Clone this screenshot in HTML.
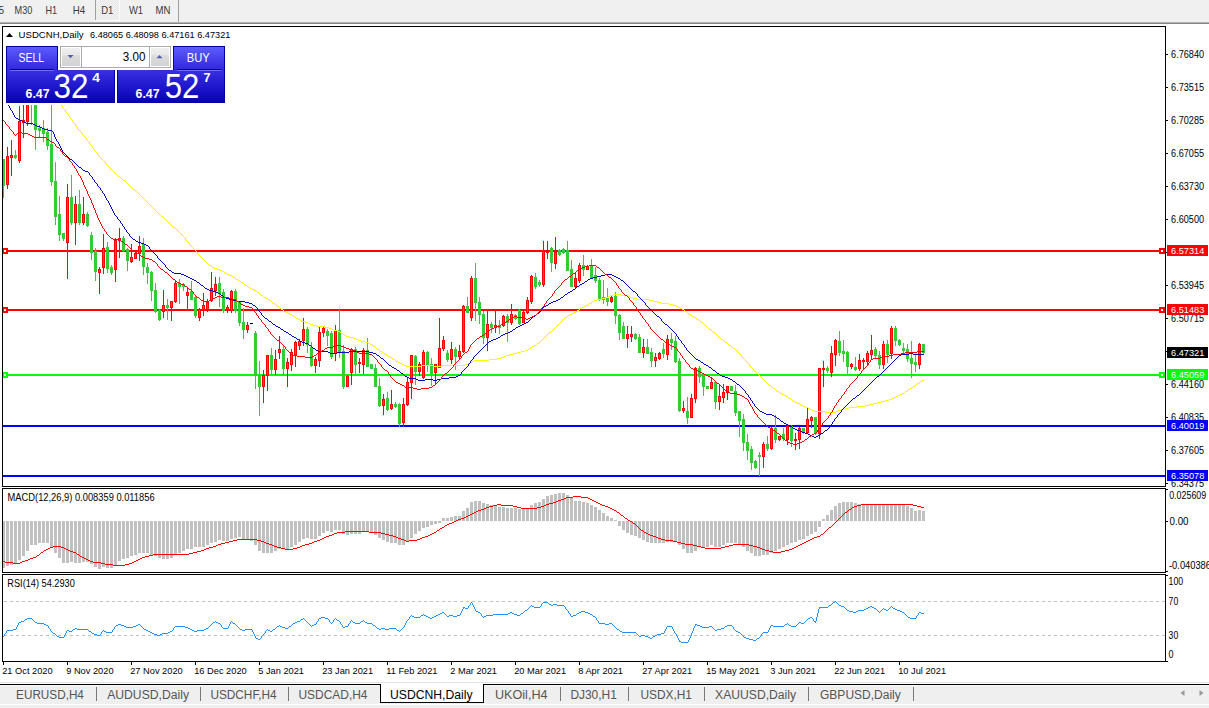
<!DOCTYPE html>
<html><head><meta charset="utf-8"><title>USDCNH,Daily</title>
<style>
html,body{margin:0;padding:0;background:#fff;}
body{width:1209px;height:708px;overflow:hidden;position:relative;font-family:"Liberation Sans", sans-serif;}
svg{position:absolute;left:0;top:0;display:block;}
text{font-family:"Liberation Sans", sans-serif;}
</style></head><body>
<svg width="1209" height="708" viewBox="0 0 1209 708">
<defs>
<pattern id="chk" width="2" height="2" patternUnits="userSpaceOnUse"><rect width="2" height="2" fill="#f4f4f4"/><rect width="1" height="1" fill="#e6e6e6"/><rect x="1" y="1" width="1" height="1" fill="#e6e6e6"/></pattern>
<linearGradient id="gBtn" x1="0" y1="0" x2="0" y2="1"><stop offset="0" stop-color="#5c5cff"/><stop offset="1" stop-color="#3226dc"/></linearGradient>
<linearGradient id="gPx" x1="0" y1="0" x2="0" y2="1"><stop offset="0" stop-color="#3a30e4"/><stop offset="1" stop-color="#0600b4"/></linearGradient>
<linearGradient id="gSpin" x1="0" y1="0" x2="0" y2="1"><stop offset="0" stop-color="#f0f0f0"/><stop offset="0.4" stop-color="#e6e6e6"/><stop offset="0.42" stop-color="#dcdcdc"/><stop offset="1" stop-color="#d2d2d2"/></linearGradient>
<clipPath id="cMain"><rect x="3" y="27" width="1162" height="459"/></clipPath>
<clipPath id="cMacd"><rect x="3" y="489" width="1162" height="83"/></clipPath>
<clipPath id="cRsi"><rect x="3" y="575" width="1162" height="86"/></clipPath>
</defs>

<rect x="0" y="0" width="1209" height="22" fill="#f0f0f0"/>
<rect x="0" y="22" width="1209" height="1" fill="#b4b4b4"/>
<rect x="0" y="23" width="1209" height="1" fill="#858585"/>
<rect x="96" y="0" width="23" height="20" fill="url(#chk)"/><rect x="119" y="0" width="1" height="21" fill="#fbfbfb"/><rect x="96" y="20" width="24" height="1" fill="#fbfbfb"/>
<rect x="95" y="0" width="1" height="20" fill="#a0a0a0"/>
<rect x="178" y="0" width="1" height="22" fill="#a0a0a0"/>
<text x="-1.5" y="14.1" font-size="10.2" fill="#3a3a3a" textLength="5.6" lengthAdjust="spacingAndGlyphs">5</text>
<text x="14.6" y="14.1" font-size="10.2" fill="#3a3a3a" textLength="17.7" lengthAdjust="spacingAndGlyphs">M30</text>
<text x="45.5" y="14.1" font-size="10.2" fill="#3a3a3a" textLength="11.6" lengthAdjust="spacingAndGlyphs">H1</text>
<text x="72.8" y="14.1" font-size="10.2" fill="#3a3a3a" textLength="12.4" lengthAdjust="spacingAndGlyphs">H4</text>
<text x="101.2" y="14.1" font-size="10.2" fill="#3a3a3a" textLength="12.1" lengthAdjust="spacingAndGlyphs">D1</text>
<text x="129" y="14.1" font-size="10.2" fill="#3a3a3a" textLength="14.1" lengthAdjust="spacingAndGlyphs">W1</text>
<text x="155.5" y="14.1" font-size="10.2" fill="#3a3a3a" textLength="14.9" lengthAdjust="spacingAndGlyphs">MN</text>
<g clip-path="url(#cMain)" shape-rendering="crispEdges">
<rect x="3" y="250" width="1163" height="2" fill="#ff0000"/>
<rect x="2" y="248" width="6" height="6" fill="#ff0000"/>
<rect x="4" y="250" width="2" height="2" fill="#fff"/>
<rect x="1159" y="248" width="6" height="6" fill="#ff0000"/>
<rect x="1161" y="250" width="2" height="2" fill="#fff"/>
<rect x="3" y="309" width="1163" height="2" fill="#ff0000"/>
<rect x="2" y="307" width="6" height="6" fill="#ff0000"/>
<rect x="4" y="309" width="2" height="2" fill="#fff"/>
<rect x="1159" y="307" width="6" height="6" fill="#ff0000"/>
<rect x="1161" y="309" width="2" height="2" fill="#fff"/>
<rect x="3" y="374" width="1163" height="2" fill="#00ff00"/>
<rect x="2" y="372" width="6" height="6" fill="#00ff00"/>
<rect x="4" y="374" width="2" height="2" fill="#fff"/>
<rect x="1159" y="372" width="6" height="6" fill="#00ff00"/>
<rect x="1161" y="374" width="2" height="2" fill="#fff"/>
<rect x="3" y="425" width="1163" height="2" fill="#0000ff"/>
<rect x="3" y="475" width="1163" height="2" fill="#0000ff"/>
<rect x="3" y="159" width="1" height="39" fill="#32cd32"/>
<rect x="2" y="159" width="3" height="27" fill="#32cd32"/>
<rect x="7" y="147" width="1" height="42" fill="#ff0000"/>
<rect x="6" y="156" width="3" height="29" fill="#ff0000"/>
<rect x="7" y="157" width="1" height="27" fill="#ff4500"/>
<rect x="11" y="140" width="1" height="36" fill="#ff0000"/>
<rect x="10" y="155" width="3" height="3" fill="#ff0000"/>
<rect x="11" y="156" width="1" height="1" fill="#ff4500"/>
<rect x="15" y="150" width="1" height="9" fill="#32cd32"/>
<rect x="14" y="155" width="3" height="3" fill="#32cd32"/>
<rect x="19" y="106" width="1" height="57" fill="#ff0000"/>
<rect x="18" y="121" width="3" height="40" fill="#ff0000"/>
<rect x="19" y="122" width="1" height="38" fill="#ff4500"/>
<rect x="23" y="100" width="1" height="38" fill="#ff0000"/>
<rect x="22" y="120" width="3" height="3" fill="#ff0000"/>
<rect x="23" y="121" width="1" height="1" fill="#ff4500"/>
<rect x="27" y="100" width="1" height="26" fill="#ff0000"/>
<rect x="26" y="100" width="3" height="22" fill="#ff0000"/>
<rect x="27" y="101" width="1" height="20" fill="#ff4500"/>
<rect x="31" y="100" width="1" height="25" fill="#32cd32"/>
<rect x="30" y="100" width="3" height="5" fill="#32cd32"/>
<rect x="35" y="100" width="1" height="50" fill="#32cd32"/>
<rect x="34" y="100" width="3" height="30" fill="#32cd32"/>
<rect x="39" y="125" width="1" height="12" fill="#32cd32"/>
<rect x="38" y="128" width="3" height="3" fill="#32cd32"/>
<rect x="43" y="120" width="1" height="22" fill="#32cd32"/>
<rect x="42" y="128" width="3" height="6" fill="#32cd32"/>
<rect x="47" y="128" width="1" height="22" fill="#32cd32"/>
<rect x="46" y="132" width="3" height="14" fill="#32cd32"/>
<rect x="51" y="100" width="1" height="86" fill="#32cd32"/>
<rect x="50" y="144" width="3" height="38" fill="#32cd32"/>
<rect x="55" y="162" width="1" height="63" fill="#32cd32"/>
<rect x="54" y="181" width="3" height="36" fill="#32cd32"/>
<rect x="59" y="196" width="1" height="45" fill="#32cd32"/>
<rect x="58" y="214" width="3" height="21" fill="#32cd32"/>
<rect x="63" y="233" width="1" height="8" fill="#32cd32"/>
<rect x="62" y="233" width="3" height="6" fill="#32cd32"/>
<rect x="67" y="184" width="1" height="95" fill="#ff0000"/>
<rect x="66" y="197" width="3" height="46" fill="#ff0000"/>
<rect x="67" y="198" width="1" height="44" fill="#ff4500"/>
<rect x="71" y="175" width="1" height="50" fill="#32cd32"/>
<rect x="70" y="197" width="3" height="26" fill="#32cd32"/>
<rect x="75" y="196" width="1" height="49" fill="#ff0000"/>
<rect x="74" y="204" width="3" height="19" fill="#ff0000"/>
<rect x="75" y="205" width="1" height="17" fill="#ff4500"/>
<rect x="79" y="190" width="1" height="35" fill="#32cd32"/>
<rect x="78" y="204" width="3" height="19" fill="#32cd32"/>
<rect x="83" y="197" width="1" height="28" fill="#ff0000"/>
<rect x="82" y="214" width="3" height="9" fill="#ff0000"/>
<rect x="83" y="215" width="1" height="7" fill="#ff4500"/>
<rect x="87" y="212" width="1" height="15" fill="#32cd32"/>
<rect x="86" y="214" width="3" height="12" fill="#32cd32"/>
<rect x="91" y="232" width="1" height="28" fill="#32cd32"/>
<rect x="90" y="235" width="3" height="18" fill="#32cd32"/>
<rect x="95" y="248" width="1" height="33" fill="#32cd32"/>
<rect x="94" y="251" width="3" height="21" fill="#32cd32"/>
<rect x="99" y="267" width="1" height="27" fill="#ff0000"/>
<rect x="98" y="269" width="3" height="4" fill="#ff0000"/>
<rect x="99" y="270" width="1" height="2" fill="#ff4500"/>
<rect x="103" y="234" width="1" height="40" fill="#ff0000"/>
<rect x="102" y="248" width="3" height="20" fill="#ff0000"/>
<rect x="103" y="249" width="1" height="18" fill="#ff4500"/>
<rect x="107" y="242" width="1" height="31" fill="#32cd32"/>
<rect x="106" y="247" width="3" height="22" fill="#32cd32"/>
<rect x="111" y="265" width="1" height="10" fill="#32cd32"/>
<rect x="110" y="267" width="3" height="6" fill="#32cd32"/>
<rect x="115" y="238" width="1" height="44" fill="#ff0000"/>
<rect x="114" y="240" width="3" height="30" fill="#ff0000"/>
<rect x="115" y="241" width="1" height="28" fill="#ff4500"/>
<rect x="119" y="228" width="1" height="30" fill="#ff0000"/>
<rect x="118" y="238" width="3" height="3" fill="#ff0000"/>
<rect x="119" y="239" width="1" height="1" fill="#ff4500"/>
<rect x="123" y="236" width="1" height="16" fill="#32cd32"/>
<rect x="122" y="238" width="3" height="13" fill="#32cd32"/>
<rect x="127" y="248" width="1" height="23" fill="#32cd32"/>
<rect x="126" y="249" width="3" height="12" fill="#32cd32"/>
<rect x="131" y="244" width="1" height="19" fill="#ff0000"/>
<rect x="130" y="257" width="3" height="5" fill="#ff0000"/>
<rect x="131" y="258" width="1" height="3" fill="#ff4500"/>
<rect x="135" y="252" width="1" height="7" fill="#ff0000"/>
<rect x="134" y="253" width="3" height="6" fill="#ff0000"/>
<rect x="135" y="254" width="1" height="4" fill="#ff4500"/>
<rect x="139" y="236" width="1" height="25" fill="#ff0000"/>
<rect x="138" y="246" width="3" height="8" fill="#ff0000"/>
<rect x="139" y="247" width="1" height="6" fill="#ff4500"/>
<rect x="143" y="238" width="1" height="37" fill="#32cd32"/>
<rect x="142" y="244" width="3" height="23" fill="#32cd32"/>
<rect x="147" y="263" width="1" height="21" fill="#32cd32"/>
<rect x="146" y="267" width="3" height="6" fill="#32cd32"/>
<rect x="151" y="271" width="1" height="30" fill="#32cd32"/>
<rect x="150" y="272" width="3" height="19" fill="#32cd32"/>
<rect x="155" y="283" width="1" height="30" fill="#32cd32"/>
<rect x="154" y="290" width="3" height="22" fill="#32cd32"/>
<rect x="159" y="309" width="1" height="12" fill="#32cd32"/>
<rect x="158" y="310" width="3" height="10" fill="#32cd32"/>
<rect x="163" y="290" width="1" height="28" fill="#ff0000"/>
<rect x="162" y="305" width="3" height="7" fill="#ff0000"/>
<rect x="163" y="306" width="1" height="5" fill="#ff4500"/>
<rect x="167" y="299" width="1" height="21" fill="#32cd32"/>
<rect x="166" y="305" width="3" height="3" fill="#32cd32"/>
<rect x="171" y="301" width="1" height="20" fill="#ff0000"/>
<rect x="170" y="301" width="3" height="7" fill="#ff0000"/>
<rect x="171" y="302" width="1" height="5" fill="#ff4500"/>
<rect x="175" y="280" width="1" height="23" fill="#ff0000"/>
<rect x="174" y="283" width="3" height="19" fill="#ff0000"/>
<rect x="175" y="284" width="1" height="17" fill="#ff4500"/>
<rect x="179" y="279" width="1" height="25" fill="#32cd32"/>
<rect x="178" y="283" width="3" height="4" fill="#32cd32"/>
<rect x="183" y="283" width="1" height="8" fill="#32cd32"/>
<rect x="182" y="284" width="3" height="3" fill="#32cd32"/>
<rect x="187" y="287" width="1" height="23" fill="#ff0000"/>
<rect x="186" y="292" width="3" height="4" fill="#ff0000"/>
<rect x="187" y="293" width="1" height="2" fill="#ff4500"/>
<rect x="191" y="281" width="1" height="19" fill="#32cd32"/>
<rect x="190" y="291" width="3" height="9" fill="#32cd32"/>
<rect x="195" y="295" width="1" height="23" fill="#32cd32"/>
<rect x="194" y="297" width="3" height="19" fill="#32cd32"/>
<rect x="199" y="308" width="1" height="13" fill="#ff0000"/>
<rect x="198" y="309" width="3" height="9" fill="#ff0000"/>
<rect x="199" y="310" width="1" height="7" fill="#ff4500"/>
<rect x="203" y="293" width="1" height="23" fill="#ff0000"/>
<rect x="202" y="305" width="3" height="5" fill="#ff0000"/>
<rect x="203" y="306" width="1" height="3" fill="#ff4500"/>
<rect x="207" y="299" width="1" height="13" fill="#ff0000"/>
<rect x="206" y="302" width="3" height="8" fill="#ff0000"/>
<rect x="207" y="303" width="1" height="6" fill="#ff4500"/>
<rect x="211" y="272" width="1" height="30" fill="#ff0000"/>
<rect x="210" y="288" width="3" height="13" fill="#ff0000"/>
<rect x="211" y="289" width="1" height="11" fill="#ff4500"/>
<rect x="215" y="277" width="1" height="19" fill="#ff0000"/>
<rect x="214" y="284" width="3" height="7" fill="#ff0000"/>
<rect x="215" y="285" width="1" height="5" fill="#ff4500"/>
<rect x="219" y="277" width="1" height="30" fill="#32cd32"/>
<rect x="218" y="283" width="3" height="11" fill="#32cd32"/>
<rect x="223" y="289" width="1" height="24" fill="#32cd32"/>
<rect x="222" y="292" width="3" height="19" fill="#32cd32"/>
<rect x="227" y="305" width="1" height="8" fill="#ff0000"/>
<rect x="226" y="307" width="3" height="3" fill="#ff0000"/>
<rect x="227" y="308" width="1" height="1" fill="#ff4500"/>
<rect x="231" y="290" width="1" height="23" fill="#ff0000"/>
<rect x="230" y="291" width="3" height="20" fill="#ff0000"/>
<rect x="231" y="292" width="1" height="18" fill="#ff4500"/>
<rect x="235" y="289" width="1" height="24" fill="#32cd32"/>
<rect x="234" y="291" width="3" height="20" fill="#32cd32"/>
<rect x="239" y="301" width="1" height="25" fill="#32cd32"/>
<rect x="238" y="302" width="3" height="21" fill="#32cd32"/>
<rect x="243" y="308" width="1" height="31" fill="#32cd32"/>
<rect x="242" y="322" width="3" height="8" fill="#32cd32"/>
<rect x="247" y="322" width="1" height="11" fill="#ff0000"/>
<rect x="246" y="325" width="3" height="5" fill="#ff0000"/>
<rect x="247" y="326" width="1" height="3" fill="#ff4500"/>
<rect x="250" y="323" width="3" height="1" fill="#000"/>
<rect x="255" y="331" width="1" height="58" fill="#32cd32"/>
<rect x="254" y="333" width="3" height="43" fill="#32cd32"/>
<rect x="259" y="361" width="1" height="55" fill="#32cd32"/>
<rect x="258" y="375" width="3" height="12" fill="#32cd32"/>
<rect x="263" y="370" width="1" height="33" fill="#ff0000"/>
<rect x="262" y="375" width="3" height="12" fill="#ff0000"/>
<rect x="263" y="376" width="1" height="10" fill="#ff4500"/>
<rect x="267" y="355" width="1" height="36" fill="#ff0000"/>
<rect x="266" y="355" width="3" height="21" fill="#ff0000"/>
<rect x="267" y="356" width="1" height="19" fill="#ff4500"/>
<rect x="271" y="348" width="1" height="27" fill="#32cd32"/>
<rect x="270" y="355" width="3" height="15" fill="#32cd32"/>
<rect x="275" y="350" width="1" height="25" fill="#ff0000"/>
<rect x="274" y="359" width="3" height="11" fill="#ff0000"/>
<rect x="275" y="360" width="1" height="9" fill="#ff4500"/>
<rect x="279" y="336" width="1" height="23" fill="#ff0000"/>
<rect x="278" y="349" width="3" height="4" fill="#ff0000"/>
<rect x="279" y="350" width="1" height="2" fill="#ff4500"/>
<rect x="283" y="346" width="1" height="30" fill="#32cd32"/>
<rect x="282" y="349" width="3" height="20" fill="#32cd32"/>
<rect x="287" y="358" width="1" height="29" fill="#ff0000"/>
<rect x="286" y="362" width="3" height="7" fill="#ff0000"/>
<rect x="287" y="363" width="1" height="5" fill="#ff4500"/>
<rect x="291" y="349" width="1" height="22" fill="#ff0000"/>
<rect x="290" y="352" width="3" height="13" fill="#ff0000"/>
<rect x="291" y="353" width="1" height="11" fill="#ff4500"/>
<rect x="295" y="341" width="1" height="26" fill="#ff0000"/>
<rect x="294" y="342" width="3" height="13" fill="#ff0000"/>
<rect x="295" y="343" width="1" height="11" fill="#ff4500"/>
<rect x="299" y="339" width="1" height="11" fill="#ff0000"/>
<rect x="298" y="341" width="3" height="5" fill="#ff0000"/>
<rect x="299" y="342" width="1" height="3" fill="#ff4500"/>
<rect x="303" y="318" width="1" height="28" fill="#ff0000"/>
<rect x="302" y="329" width="3" height="12" fill="#ff0000"/>
<rect x="303" y="330" width="1" height="10" fill="#ff4500"/>
<rect x="307" y="327" width="1" height="26" fill="#32cd32"/>
<rect x="306" y="329" width="3" height="16" fill="#32cd32"/>
<rect x="311" y="342" width="1" height="25" fill="#32cd32"/>
<rect x="310" y="347" width="3" height="19" fill="#32cd32"/>
<rect x="315" y="357" width="1" height="16" fill="#ff0000"/>
<rect x="314" y="359" width="3" height="7" fill="#ff0000"/>
<rect x="315" y="360" width="1" height="5" fill="#ff4500"/>
<rect x="319" y="326" width="1" height="41" fill="#ff0000"/>
<rect x="318" y="332" width="3" height="29" fill="#ff0000"/>
<rect x="319" y="333" width="1" height="27" fill="#ff4500"/>
<rect x="323" y="327" width="1" height="10" fill="#ff0000"/>
<rect x="322" y="328" width="3" height="5" fill="#ff0000"/>
<rect x="323" y="329" width="1" height="3" fill="#ff4500"/>
<rect x="327" y="329" width="1" height="17" fill="#32cd32"/>
<rect x="326" y="331" width="3" height="5" fill="#32cd32"/>
<rect x="331" y="331" width="1" height="28" fill="#32cd32"/>
<rect x="330" y="333" width="3" height="24" fill="#32cd32"/>
<rect x="335" y="325" width="1" height="36" fill="#ff0000"/>
<rect x="334" y="330" width="3" height="24" fill="#ff0000"/>
<rect x="335" y="331" width="1" height="22" fill="#ff4500"/>
<rect x="339" y="310" width="1" height="48" fill="#32cd32"/>
<rect x="338" y="330" width="3" height="23" fill="#32cd32"/>
<rect x="343" y="345" width="1" height="44" fill="#32cd32"/>
<rect x="342" y="351" width="3" height="36" fill="#32cd32"/>
<rect x="347" y="375" width="1" height="12" fill="#ff0000"/>
<rect x="346" y="376" width="3" height="11" fill="#ff0000"/>
<rect x="347" y="377" width="1" height="9" fill="#ff4500"/>
<rect x="351" y="348" width="1" height="37" fill="#ff0000"/>
<rect x="350" y="349" width="3" height="24" fill="#ff0000"/>
<rect x="351" y="350" width="1" height="22" fill="#ff4500"/>
<rect x="355" y="347" width="1" height="27" fill="#32cd32"/>
<rect x="354" y="349" width="3" height="16" fill="#32cd32"/>
<rect x="359" y="358" width="1" height="15" fill="#ff0000"/>
<rect x="358" y="362" width="3" height="2" fill="#ff0000"/>
<rect x="363" y="348" width="1" height="26" fill="#ff0000"/>
<rect x="362" y="350" width="3" height="15" fill="#ff0000"/>
<rect x="363" y="351" width="1" height="13" fill="#ff4500"/>
<rect x="367" y="338" width="1" height="29" fill="#32cd32"/>
<rect x="366" y="350" width="3" height="17" fill="#32cd32"/>
<rect x="371" y="364" width="1" height="5" fill="#32cd32"/>
<rect x="370" y="364" width="3" height="5" fill="#32cd32"/>
<rect x="375" y="364" width="1" height="23" fill="#32cd32"/>
<rect x="374" y="368" width="3" height="19" fill="#32cd32"/>
<rect x="379" y="378" width="1" height="29" fill="#32cd32"/>
<rect x="378" y="386" width="3" height="20" fill="#32cd32"/>
<rect x="383" y="394" width="1" height="21" fill="#ff0000"/>
<rect x="382" y="399" width="3" height="7" fill="#ff0000"/>
<rect x="383" y="400" width="1" height="5" fill="#ff4500"/>
<rect x="387" y="392" width="1" height="19" fill="#32cd32"/>
<rect x="386" y="398" width="3" height="12" fill="#32cd32"/>
<rect x="391" y="390" width="1" height="20" fill="#ff0000"/>
<rect x="390" y="404" width="3" height="5" fill="#ff0000"/>
<rect x="391" y="405" width="1" height="3" fill="#ff4500"/>
<rect x="395" y="402" width="1" height="6" fill="#32cd32"/>
<rect x="394" y="404" width="3" height="3" fill="#32cd32"/>
<rect x="399" y="403" width="1" height="24" fill="#32cd32"/>
<rect x="398" y="404" width="3" height="20" fill="#32cd32"/>
<rect x="403" y="398" width="1" height="29" fill="#ff0000"/>
<rect x="402" y="404" width="3" height="19" fill="#ff0000"/>
<rect x="403" y="405" width="1" height="17" fill="#ff4500"/>
<rect x="407" y="377" width="1" height="29" fill="#ff0000"/>
<rect x="406" y="382" width="3" height="23" fill="#ff0000"/>
<rect x="407" y="383" width="1" height="21" fill="#ff4500"/>
<rect x="411" y="355" width="1" height="44" fill="#ff0000"/>
<rect x="410" y="355" width="3" height="28" fill="#ff0000"/>
<rect x="411" y="356" width="1" height="26" fill="#ff4500"/>
<rect x="415" y="355" width="1" height="30" fill="#32cd32"/>
<rect x="414" y="356" width="3" height="16" fill="#32cd32"/>
<rect x="419" y="362" width="1" height="14" fill="#ff0000"/>
<rect x="418" y="364" width="3" height="8" fill="#ff0000"/>
<rect x="419" y="365" width="1" height="6" fill="#ff4500"/>
<rect x="423" y="350" width="1" height="29" fill="#ff0000"/>
<rect x="422" y="352" width="3" height="26" fill="#ff0000"/>
<rect x="423" y="353" width="1" height="24" fill="#ff4500"/>
<rect x="427" y="351" width="1" height="21" fill="#32cd32"/>
<rect x="426" y="352" width="3" height="14" fill="#32cd32"/>
<rect x="431" y="358" width="1" height="28" fill="#32cd32"/>
<rect x="430" y="364" width="3" height="10" fill="#32cd32"/>
<rect x="435" y="364" width="1" height="21" fill="#ff0000"/>
<rect x="434" y="364" width="3" height="9" fill="#ff0000"/>
<rect x="435" y="365" width="1" height="7" fill="#ff4500"/>
<rect x="439" y="318" width="1" height="50" fill="#ff0000"/>
<rect x="438" y="348" width="3" height="20" fill="#ff0000"/>
<rect x="439" y="349" width="1" height="18" fill="#ff4500"/>
<rect x="443" y="336" width="1" height="15" fill="#ff0000"/>
<rect x="442" y="340" width="3" height="9" fill="#ff0000"/>
<rect x="443" y="341" width="1" height="7" fill="#ff4500"/>
<rect x="447" y="350" width="1" height="12" fill="#32cd32"/>
<rect x="446" y="353" width="3" height="7" fill="#32cd32"/>
<rect x="451" y="342" width="1" height="22" fill="#ff0000"/>
<rect x="450" y="349" width="3" height="11" fill="#ff0000"/>
<rect x="451" y="350" width="1" height="9" fill="#ff4500"/>
<rect x="455" y="347" width="1" height="23" fill="#32cd32"/>
<rect x="454" y="349" width="3" height="8" fill="#32cd32"/>
<rect x="459" y="345" width="1" height="15" fill="#ff0000"/>
<rect x="458" y="351" width="3" height="6" fill="#ff0000"/>
<rect x="459" y="352" width="1" height="4" fill="#ff4500"/>
<rect x="463" y="305" width="1" height="48" fill="#ff0000"/>
<rect x="462" y="306" width="3" height="46" fill="#ff0000"/>
<rect x="463" y="307" width="1" height="44" fill="#ff4500"/>
<rect x="467" y="297" width="1" height="16" fill="#32cd32"/>
<rect x="466" y="306" width="3" height="7" fill="#32cd32"/>
<rect x="471" y="276" width="1" height="45" fill="#ff0000"/>
<rect x="470" y="278" width="3" height="40" fill="#ff0000"/>
<rect x="471" y="279" width="1" height="38" fill="#ff4500"/>
<rect x="475" y="263" width="1" height="58" fill="#32cd32"/>
<rect x="474" y="278" width="3" height="25" fill="#32cd32"/>
<rect x="479" y="297" width="1" height="27" fill="#32cd32"/>
<rect x="478" y="302" width="3" height="13" fill="#32cd32"/>
<rect x="483" y="311" width="1" height="33" fill="#32cd32"/>
<rect x="482" y="314" width="3" height="24" fill="#32cd32"/>
<rect x="487" y="311" width="1" height="40" fill="#ff0000"/>
<rect x="486" y="324" width="3" height="14" fill="#ff0000"/>
<rect x="487" y="325" width="1" height="12" fill="#ff4500"/>
<rect x="491" y="322" width="1" height="11" fill="#32cd32"/>
<rect x="490" y="324" width="3" height="4" fill="#32cd32"/>
<rect x="495" y="311" width="1" height="22" fill="#ff0000"/>
<rect x="494" y="325" width="3" height="3" fill="#ff0000"/>
<rect x="495" y="326" width="1" height="1" fill="#ff4500"/>
<rect x="499" y="320" width="1" height="14" fill="#32cd32"/>
<rect x="498" y="325" width="3" height="3" fill="#32cd32"/>
<rect x="503" y="315" width="1" height="12" fill="#ff0000"/>
<rect x="502" y="316" width="3" height="10" fill="#ff0000"/>
<rect x="503" y="317" width="1" height="8" fill="#ff4500"/>
<rect x="507" y="314" width="1" height="28" fill="#32cd32"/>
<rect x="506" y="316" width="3" height="7" fill="#32cd32"/>
<rect x="511" y="304" width="1" height="21" fill="#ff0000"/>
<rect x="510" y="314" width="3" height="9" fill="#ff0000"/>
<rect x="511" y="315" width="1" height="7" fill="#ff4500"/>
<rect x="515" y="314" width="1" height="6" fill="#32cd32"/>
<rect x="514" y="315" width="3" height="4" fill="#32cd32"/>
<rect x="519" y="309" width="1" height="16" fill="#32cd32"/>
<rect x="518" y="310" width="3" height="14" fill="#32cd32"/>
<rect x="523" y="311" width="1" height="12" fill="#ff0000"/>
<rect x="522" y="312" width="3" height="11" fill="#ff0000"/>
<rect x="523" y="313" width="1" height="9" fill="#ff4500"/>
<rect x="527" y="297" width="1" height="17" fill="#ff0000"/>
<rect x="526" y="300" width="3" height="13" fill="#ff0000"/>
<rect x="527" y="301" width="1" height="11" fill="#ff4500"/>
<rect x="531" y="275" width="1" height="29" fill="#ff0000"/>
<rect x="530" y="276" width="3" height="26" fill="#ff0000"/>
<rect x="531" y="277" width="1" height="24" fill="#ff4500"/>
<rect x="535" y="273" width="1" height="16" fill="#32cd32"/>
<rect x="534" y="277" width="3" height="10" fill="#32cd32"/>
<rect x="539" y="280" width="1" height="7" fill="#32cd32"/>
<rect x="538" y="282" width="3" height="3" fill="#32cd32"/>
<rect x="543" y="241" width="1" height="46" fill="#ff0000"/>
<rect x="542" y="251" width="3" height="34" fill="#ff0000"/>
<rect x="543" y="252" width="1" height="32" fill="#ff4500"/>
<rect x="547" y="241" width="1" height="18" fill="#ff0000"/>
<rect x="546" y="251" width="3" height="2" fill="#ff0000"/>
<rect x="551" y="247" width="1" height="25" fill="#32cd32"/>
<rect x="550" y="248" width="3" height="15" fill="#32cd32"/>
<rect x="555" y="237" width="1" height="32" fill="#ff0000"/>
<rect x="554" y="252" width="3" height="12" fill="#ff0000"/>
<rect x="555" y="253" width="1" height="10" fill="#ff4500"/>
<rect x="559" y="249" width="1" height="7" fill="#32cd32"/>
<rect x="558" y="250" width="3" height="5" fill="#32cd32"/>
<rect x="563" y="248" width="1" height="6" fill="#32cd32"/>
<rect x="562" y="249" width="3" height="4" fill="#32cd32"/>
<rect x="567" y="241" width="1" height="30" fill="#32cd32"/>
<rect x="566" y="250" width="3" height="21" fill="#32cd32"/>
<rect x="571" y="260" width="1" height="27" fill="#32cd32"/>
<rect x="570" y="269" width="3" height="18" fill="#32cd32"/>
<rect x="575" y="273" width="1" height="16" fill="#ff0000"/>
<rect x="574" y="278" width="3" height="9" fill="#ff0000"/>
<rect x="575" y="279" width="1" height="7" fill="#ff4500"/>
<rect x="579" y="263" width="1" height="20" fill="#ff0000"/>
<rect x="578" y="265" width="3" height="16" fill="#ff0000"/>
<rect x="579" y="266" width="1" height="14" fill="#ff4500"/>
<rect x="583" y="255" width="1" height="21" fill="#32cd32"/>
<rect x="582" y="265" width="3" height="5" fill="#32cd32"/>
<rect x="587" y="265" width="1" height="5" fill="#ff0000"/>
<rect x="586" y="266" width="3" height="4" fill="#ff0000"/>
<rect x="587" y="267" width="1" height="2" fill="#ff4500"/>
<rect x="591" y="259" width="1" height="20" fill="#32cd32"/>
<rect x="590" y="265" width="3" height="13" fill="#32cd32"/>
<rect x="595" y="267" width="1" height="16" fill="#32cd32"/>
<rect x="594" y="275" width="3" height="6" fill="#32cd32"/>
<rect x="599" y="278" width="1" height="23" fill="#32cd32"/>
<rect x="598" y="280" width="3" height="20" fill="#32cd32"/>
<rect x="603" y="280" width="1" height="24" fill="#32cd32"/>
<rect x="602" y="297" width="3" height="3" fill="#32cd32"/>
<rect x="607" y="288" width="1" height="18" fill="#32cd32"/>
<rect x="606" y="298" width="3" height="4" fill="#32cd32"/>
<rect x="611" y="295" width="1" height="8" fill="#ff0000"/>
<rect x="610" y="297" width="3" height="5" fill="#ff0000"/>
<rect x="611" y="298" width="1" height="3" fill="#ff4500"/>
<rect x="615" y="292" width="1" height="32" fill="#32cd32"/>
<rect x="614" y="296" width="3" height="20" fill="#32cd32"/>
<rect x="619" y="314" width="1" height="26" fill="#32cd32"/>
<rect x="618" y="315" width="3" height="18" fill="#32cd32"/>
<rect x="623" y="322" width="1" height="17" fill="#32cd32"/>
<rect x="622" y="326" width="3" height="13" fill="#32cd32"/>
<rect x="627" y="326" width="1" height="22" fill="#ff0000"/>
<rect x="626" y="334" width="3" height="5" fill="#ff0000"/>
<rect x="627" y="335" width="1" height="3" fill="#ff4500"/>
<rect x="631" y="326" width="1" height="16" fill="#ff0000"/>
<rect x="630" y="334" width="3" height="3" fill="#ff0000"/>
<rect x="631" y="335" width="1" height="1" fill="#ff4500"/>
<rect x="635" y="333" width="1" height="7" fill="#32cd32"/>
<rect x="634" y="334" width="3" height="5" fill="#32cd32"/>
<rect x="639" y="334" width="1" height="19" fill="#32cd32"/>
<rect x="638" y="337" width="3" height="16" fill="#32cd32"/>
<rect x="643" y="339" width="1" height="19" fill="#ff0000"/>
<rect x="642" y="347" width="3" height="6" fill="#ff0000"/>
<rect x="643" y="348" width="1" height="4" fill="#ff4500"/>
<rect x="647" y="339" width="1" height="15" fill="#32cd32"/>
<rect x="646" y="347" width="3" height="7" fill="#32cd32"/>
<rect x="651" y="348" width="1" height="19" fill="#32cd32"/>
<rect x="650" y="352" width="3" height="9" fill="#32cd32"/>
<rect x="655" y="353" width="1" height="14" fill="#ff0000"/>
<rect x="654" y="357" width="3" height="4" fill="#ff0000"/>
<rect x="655" y="358" width="1" height="2" fill="#ff4500"/>
<rect x="659" y="352" width="1" height="8" fill="#ff0000"/>
<rect x="658" y="353" width="3" height="6" fill="#ff0000"/>
<rect x="659" y="354" width="1" height="4" fill="#ff4500"/>
<rect x="663" y="343" width="1" height="15" fill="#32cd32"/>
<rect x="662" y="349" width="3" height="5" fill="#32cd32"/>
<rect x="667" y="335" width="1" height="25" fill="#ff0000"/>
<rect x="666" y="339" width="3" height="16" fill="#ff0000"/>
<rect x="667" y="340" width="1" height="14" fill="#ff4500"/>
<rect x="671" y="333" width="1" height="17" fill="#32cd32"/>
<rect x="670" y="339" width="3" height="4" fill="#32cd32"/>
<rect x="675" y="336" width="1" height="27" fill="#32cd32"/>
<rect x="674" y="341" width="3" height="21" fill="#32cd32"/>
<rect x="679" y="358" width="1" height="54" fill="#32cd32"/>
<rect x="678" y="361" width="3" height="50" fill="#32cd32"/>
<rect x="683" y="401" width="1" height="12" fill="#ff0000"/>
<rect x="682" y="408" width="3" height="3" fill="#ff0000"/>
<rect x="683" y="409" width="1" height="1" fill="#ff4500"/>
<rect x="687" y="397" width="1" height="27" fill="#32cd32"/>
<rect x="686" y="411" width="3" height="7" fill="#32cd32"/>
<rect x="691" y="394" width="1" height="24" fill="#ff0000"/>
<rect x="690" y="398" width="3" height="20" fill="#ff0000"/>
<rect x="691" y="399" width="1" height="18" fill="#ff4500"/>
<rect x="695" y="367" width="1" height="36" fill="#ff0000"/>
<rect x="694" y="368" width="3" height="31" fill="#ff0000"/>
<rect x="695" y="369" width="1" height="29" fill="#ff4500"/>
<rect x="699" y="366" width="1" height="17" fill="#32cd32"/>
<rect x="698" y="368" width="3" height="9" fill="#32cd32"/>
<rect x="703" y="374" width="1" height="22" fill="#32cd32"/>
<rect x="702" y="374" width="3" height="13" fill="#32cd32"/>
<rect x="707" y="386" width="1" height="3" fill="#32cd32"/>
<rect x="706" y="386" width="3" height="3" fill="#32cd32"/>
<rect x="711" y="377" width="1" height="12" fill="#ff0000"/>
<rect x="710" y="382" width="3" height="7" fill="#ff0000"/>
<rect x="711" y="383" width="1" height="5" fill="#ff4500"/>
<rect x="715" y="382" width="1" height="27" fill="#32cd32"/>
<rect x="714" y="382" width="3" height="20" fill="#32cd32"/>
<rect x="719" y="384" width="1" height="26" fill="#ff0000"/>
<rect x="718" y="396" width="3" height="6" fill="#ff0000"/>
<rect x="719" y="397" width="1" height="4" fill="#ff4500"/>
<rect x="723" y="384" width="1" height="19" fill="#ff0000"/>
<rect x="722" y="392" width="3" height="6" fill="#ff0000"/>
<rect x="723" y="393" width="1" height="4" fill="#ff4500"/>
<rect x="727" y="386" width="1" height="14" fill="#ff0000"/>
<rect x="726" y="386" width="3" height="7" fill="#ff0000"/>
<rect x="727" y="387" width="1" height="5" fill="#ff4500"/>
<rect x="731" y="386" width="1" height="5" fill="#32cd32"/>
<rect x="730" y="386" width="3" height="5" fill="#32cd32"/>
<rect x="735" y="385" width="1" height="31" fill="#32cd32"/>
<rect x="734" y="391" width="3" height="22" fill="#32cd32"/>
<rect x="739" y="411" width="1" height="26" fill="#32cd32"/>
<rect x="738" y="411" width="3" height="10" fill="#32cd32"/>
<rect x="743" y="414" width="1" height="37" fill="#32cd32"/>
<rect x="742" y="419" width="3" height="24" fill="#32cd32"/>
<rect x="747" y="434" width="1" height="26" fill="#32cd32"/>
<rect x="746" y="442" width="3" height="9" fill="#32cd32"/>
<rect x="751" y="446" width="1" height="24" fill="#32cd32"/>
<rect x="750" y="449" width="3" height="14" fill="#32cd32"/>
<rect x="755" y="460" width="1" height="9" fill="#32cd32"/>
<rect x="754" y="461" width="3" height="7" fill="#32cd32"/>
<rect x="759" y="452" width="1" height="24" fill="#32cd32"/>
<rect x="758" y="455" width="3" height="2" fill="#32cd32"/>
<rect x="763" y="442" width="1" height="26" fill="#ff0000"/>
<rect x="762" y="444" width="3" height="13" fill="#ff0000"/>
<rect x="763" y="445" width="1" height="11" fill="#ff4500"/>
<rect x="767" y="436" width="1" height="15" fill="#32cd32"/>
<rect x="766" y="444" width="3" height="5" fill="#32cd32"/>
<rect x="771" y="427" width="1" height="23" fill="#ff0000"/>
<rect x="770" y="428" width="3" height="21" fill="#ff0000"/>
<rect x="771" y="429" width="1" height="19" fill="#ff4500"/>
<rect x="775" y="415" width="1" height="28" fill="#32cd32"/>
<rect x="774" y="428" width="3" height="12" fill="#32cd32"/>
<rect x="779" y="436" width="1" height="5" fill="#ff0000"/>
<rect x="778" y="436" width="3" height="4" fill="#ff0000"/>
<rect x="779" y="437" width="1" height="2" fill="#ff4500"/>
<rect x="783" y="428" width="1" height="13" fill="#32cd32"/>
<rect x="782" y="434" width="3" height="5" fill="#32cd32"/>
<rect x="787" y="425" width="1" height="20" fill="#ff0000"/>
<rect x="786" y="426" width="3" height="14" fill="#ff0000"/>
<rect x="787" y="427" width="1" height="12" fill="#ff4500"/>
<rect x="791" y="425" width="1" height="22" fill="#32cd32"/>
<rect x="790" y="426" width="3" height="15" fill="#32cd32"/>
<rect x="795" y="433" width="1" height="17" fill="#ff0000"/>
<rect x="794" y="439" width="3" height="2" fill="#ff0000"/>
<rect x="799" y="427" width="1" height="22" fill="#ff0000"/>
<rect x="798" y="428" width="3" height="12" fill="#ff0000"/>
<rect x="799" y="429" width="1" height="10" fill="#ff4500"/>
<rect x="803" y="428" width="1" height="6" fill="#32cd32"/>
<rect x="802" y="428" width="3" height="5" fill="#32cd32"/>
<rect x="807" y="407" width="1" height="27" fill="#ff0000"/>
<rect x="806" y="419" width="3" height="14" fill="#ff0000"/>
<rect x="807" y="420" width="1" height="12" fill="#ff4500"/>
<rect x="811" y="416" width="1" height="12" fill="#ff0000"/>
<rect x="810" y="417" width="3" height="4" fill="#ff0000"/>
<rect x="811" y="418" width="1" height="2" fill="#ff4500"/>
<rect x="815" y="417" width="1" height="18" fill="#32cd32"/>
<rect x="814" y="417" width="3" height="17" fill="#32cd32"/>
<rect x="819" y="368" width="1" height="71" fill="#ff0000"/>
<rect x="818" y="368" width="3" height="66" fill="#ff0000"/>
<rect x="819" y="369" width="1" height="64" fill="#ff4500"/>
<rect x="823" y="361" width="1" height="26" fill="#ff0000"/>
<rect x="822" y="368" width="3" height="2" fill="#ff0000"/>
<rect x="827" y="366" width="1" height="7" fill="#32cd32"/>
<rect x="826" y="368" width="3" height="3" fill="#32cd32"/>
<rect x="831" y="346" width="1" height="31" fill="#ff0000"/>
<rect x="830" y="353" width="3" height="20" fill="#ff0000"/>
<rect x="831" y="354" width="1" height="18" fill="#ff4500"/>
<rect x="835" y="339" width="1" height="27" fill="#ff0000"/>
<rect x="834" y="340" width="3" height="15" fill="#ff0000"/>
<rect x="835" y="341" width="1" height="13" fill="#ff4500"/>
<rect x="839" y="331" width="1" height="25" fill="#32cd32"/>
<rect x="838" y="341" width="3" height="12" fill="#32cd32"/>
<rect x="843" y="340" width="1" height="22" fill="#32cd32"/>
<rect x="842" y="351" width="3" height="3" fill="#32cd32"/>
<rect x="847" y="351" width="1" height="24" fill="#32cd32"/>
<rect x="846" y="352" width="3" height="15" fill="#32cd32"/>
<rect x="851" y="363" width="1" height="6" fill="#ff0000"/>
<rect x="850" y="364" width="3" height="3" fill="#ff0000"/>
<rect x="851" y="365" width="1" height="1" fill="#ff4500"/>
<rect x="855" y="357" width="1" height="14" fill="#32cd32"/>
<rect x="854" y="367" width="3" height="3" fill="#32cd32"/>
<rect x="859" y="354" width="1" height="17" fill="#ff0000"/>
<rect x="858" y="360" width="3" height="9" fill="#ff0000"/>
<rect x="859" y="361" width="1" height="7" fill="#ff4500"/>
<rect x="863" y="358" width="1" height="12" fill="#ff0000"/>
<rect x="862" y="360" width="3" height="2" fill="#ff0000"/>
<rect x="867" y="351" width="1" height="14" fill="#ff0000"/>
<rect x="866" y="353" width="3" height="9" fill="#ff0000"/>
<rect x="867" y="354" width="1" height="7" fill="#ff4500"/>
<rect x="871" y="335" width="1" height="24" fill="#ff0000"/>
<rect x="870" y="350" width="3" height="5" fill="#ff0000"/>
<rect x="871" y="351" width="1" height="3" fill="#ff4500"/>
<rect x="875" y="347" width="1" height="12" fill="#32cd32"/>
<rect x="874" y="349" width="3" height="7" fill="#32cd32"/>
<rect x="879" y="351" width="1" height="18" fill="#32cd32"/>
<rect x="878" y="355" width="3" height="10" fill="#32cd32"/>
<rect x="883" y="341" width="1" height="28" fill="#ff0000"/>
<rect x="882" y="344" width="3" height="21" fill="#ff0000"/>
<rect x="883" y="345" width="1" height="19" fill="#ff4500"/>
<rect x="887" y="340" width="1" height="23" fill="#32cd32"/>
<rect x="886" y="344" width="3" height="11" fill="#32cd32"/>
<rect x="891" y="326" width="1" height="33" fill="#ff0000"/>
<rect x="890" y="328" width="3" height="26" fill="#ff0000"/>
<rect x="891" y="329" width="1" height="24" fill="#ff4500"/>
<rect x="895" y="326" width="1" height="20" fill="#32cd32"/>
<rect x="894" y="328" width="3" height="13" fill="#32cd32"/>
<rect x="899" y="339" width="1" height="7" fill="#32cd32"/>
<rect x="898" y="340" width="3" height="5" fill="#32cd32"/>
<rect x="903" y="343" width="1" height="12" fill="#32cd32"/>
<rect x="902" y="348" width="3" height="3" fill="#32cd32"/>
<rect x="907" y="344" width="1" height="18" fill="#32cd32"/>
<rect x="906" y="349" width="3" height="10" fill="#32cd32"/>
<rect x="911" y="341" width="1" height="37" fill="#32cd32"/>
<rect x="910" y="358" width="3" height="6" fill="#32cd32"/>
<rect x="915" y="354" width="1" height="18" fill="#32cd32"/>
<rect x="914" y="362" width="3" height="3" fill="#32cd32"/>
<rect x="919" y="343" width="1" height="26" fill="#ff0000"/>
<rect x="918" y="344" width="3" height="21" fill="#ff0000"/>
<rect x="919" y="345" width="1" height="19" fill="#ff4500"/>
<rect x="923" y="344" width="1" height="11" fill="#32cd32"/>
<rect x="922" y="344" width="3" height="9" fill="#32cd32"/>
<path d="M61 105h1v1h-1zM62 106h1v1h-1zM62 107h1v1h-1zM63 108h1v1h-1zM64 109h1v1h-1zM65 110h1v1h-1zM65 111h1v1h-1zM66 112h1v1h-1zM67 113h1v1h-1zM68 114h1v1h-1zM68 115h1v1h-1zM69 116h1v1h-1zM70 117h1v1h-1zM70 118h1v1h-1zM71 119h1v1h-1zM72 120h1v1h-1zM72 121h1v1h-1zM73 122h1v1h-1zM74 123h1v1h-1zM75 124h1v1h-1zM75 125h1v1h-1zM76 126h1v1h-1zM77 127h1v1h-1zM77 128h1v1h-1zM78 129h1v1h-1zM79 130h1v1h-1zM80 131h1v1h-1zM81 132h1v1h-1zM82 133h1v1h-1zM82 134h1v1h-1zM83 135h1v1h-1zM84 136h1v1h-1zM85 137h1v1h-1zM86 138h1v1h-1zM86 139h1v1h-1zM87 140h1v1h-1zM88 141h1v1h-1zM89 142h1v1h-1zM89 143h1v1h-1zM90 144h1v1h-1zM91 145h1v1h-1zM92 146h1v1h-1zM92 147h1v1h-1zM93 148h1v1h-1zM94 149h1v1h-1zM94 150h1v1h-1zM95 151h1v1h-1zM96 152h1v1h-1zM97 153h1v1h-1zM97 154h1v1h-1zM98 155h1v1h-1zM99 156h1v1h-1zM100 157h1v1h-1zM101 158h1v1h-1zM102 159h1v1h-1zM103 160h1v1h-1zM104 161h1v1h-1zM105 162h1v1h-1zM105 163h1v1h-1zM106 164h1v1h-1zM107 165h1v1h-1zM108 166h1v1h-1zM109 167h1v1h-1zM110 168h1v1h-1zM111 169h1v1h-1zM112 170h1v1h-1zM113 171h1v1h-1zM114 172h1v1h-1zM115 173h1v1h-1zM116 174h1v1h-1zM117 175h1v1h-1zM118 176h2v1h-2zM120 177h1v1h-1zM121 178h1v1h-1zM122 179h1v1h-1zM123 180h2v1h-2zM125 181h1v1h-1zM126 182h1v1h-1zM127 183h1v1h-1zM128 184h1v1h-1zM129 185h1v1h-1zM130 186h1v1h-1zM131 187h1v1h-1zM132 188h1v1h-1zM133 189h2v1h-2zM135 190h1v1h-1zM136 191h1v1h-1zM137 192h1v1h-1zM138 193h1v1h-1zM139 194h1v1h-1zM140 195h1v1h-1zM141 196h1v1h-1zM142 197h1v1h-1zM143 198h1v1h-1zM144 199h1v1h-1zM145 200h1v1h-1zM146 201h1v1h-1zM147 202h1v1h-1zM148 203h1v1h-1zM149 204h1v1h-1zM150 205h1v1h-1zM151 206h1v1h-1zM152 207h1v1h-1zM153 208h1v1h-1zM154 209h1v1h-1zM155 210h1v1h-1zM156 211h1v1h-1zM157 212h1v1h-1zM158 213h1v1h-1zM159 214h1v1h-1zM160 215h1v1h-1zM161 216h2v1h-2zM163 217h1v1h-1zM164 218h1v1h-1zM165 219h1v1h-1zM166 220h1v1h-1zM167 221h1v1h-1zM168 222h1v1h-1zM169 223h1v1h-1zM170 224h1v1h-1zM171 225h1v1h-1zM172 226h1v1h-1zM173 227h2v1h-2zM175 228h1v1h-1zM176 229h1v1h-1zM177 230h1v1h-1zM178 231h1v1h-1zM179 232h1v1h-1zM180 233h1v1h-1zM181 234h1v1h-1zM182 235h1v1h-1zM183 236h1v1h-1zM184 237h1v1h-1zM185 238h1v1h-1zM185 239h1v1h-1zM186 240h1v1h-1zM187 241h1v1h-1zM188 242h1v1h-1zM189 243h1v1h-1zM189 244h1v1h-1zM190 245h1v1h-1zM191 246h1v1h-1zM192 247h1v1h-1zM193 248h1v1h-1zM194 249h1v1h-1zM195 250h1v1h-1zM196 251h1v1h-1zM197 252h1v1h-1zM197 253h1v1h-1zM198 254h1v1h-1zM199 255h1v1h-1zM200 256h1v1h-1zM201 257h1v1h-1zM202 258h1v1h-1zM203 259h1v1h-1zM204 260h1v1h-1zM205 261h1v1h-1zM206 262h1v1h-1zM207 263h1v1h-1zM208 264h1v1h-1zM209 265h2v1h-2zM211 266h1v1h-1zM212 267h2v1h-2zM214 268h3v1h-3zM217 269h3v1h-3zM220 270h2v1h-2zM222 271h2v1h-2zM224 272h1v1h-1zM225 273h2v1h-2zM227 274h2v1h-2zM229 275h3v1h-3zM232 276h1v1h-1zM233 277h2v1h-2zM235 278h1v1h-1zM236 279h2v1h-2zM238 280h2v1h-2zM240 281h1v1h-1zM241 282h2v1h-2zM243 283h1v1h-1zM244 284h1v1h-1zM245 285h2v1h-2zM247 286h1v1h-1zM248 287h2v1h-2zM250 288h2v1h-2zM252 289h2v1h-2zM254 290h2v1h-2zM256 291h1v1h-1zM257 292h2v1h-2zM259 293h1v1h-1zM260 294h1v1h-1zM613 294h8v1h-8zM261 295h2v1h-2zM610 295h3v1h-3zM621 295h7v1h-7zM263 296h1v1h-1zM608 296h2v1h-2zM628 296h2v1h-2zM264 297h2v1h-2zM605 297h3v1h-3zM630 297h3v1h-3zM266 298h2v1h-2zM601 298h4v1h-4zM633 298h4v1h-4zM268 299h1v1h-1zM597 299h4v1h-4zM637 299h12v1h-12zM269 300h2v1h-2zM594 300h3v1h-3zM649 300h4v1h-4zM271 301h1v1h-1zM592 301h2v1h-2zM653 301h4v1h-4zM272 302h1v1h-1zM591 302h1v1h-1zM657 302h4v1h-4zM273 303h2v1h-2zM589 303h2v1h-2zM661 303h8v1h-8zM275 304h1v1h-1zM588 304h1v1h-1zM669 304h4v1h-4zM276 305h1v1h-1zM586 305h2v1h-2zM673 305h3v1h-3zM277 306h2v1h-2zM584 306h2v1h-2zM676 306h2v1h-2zM279 307h1v1h-1zM582 307h2v1h-2zM678 307h2v1h-2zM280 308h1v1h-1zM580 308h2v1h-2zM680 308h2v1h-2zM281 309h2v1h-2zM579 309h1v1h-1zM682 309h2v1h-2zM283 310h1v1h-1zM577 310h2v1h-2zM684 310h1v1h-1zM284 311h2v1h-2zM576 311h1v1h-1zM685 311h2v1h-2zM286 312h2v1h-2zM574 312h2v1h-2zM687 312h1v1h-1zM288 313h2v1h-2zM572 313h2v1h-2zM688 313h1v1h-1zM290 314h2v1h-2zM570 314h2v1h-2zM689 314h2v1h-2zM292 315h1v1h-1zM568 315h2v1h-2zM691 315h1v1h-1zM293 316h2v1h-2zM567 316h1v1h-1zM692 316h2v1h-2zM295 317h1v1h-1zM565 317h2v1h-2zM694 317h2v1h-2zM296 318h2v1h-2zM564 318h1v1h-1zM696 318h1v1h-1zM298 319h2v1h-2zM563 319h1v1h-1zM697 319h2v1h-2zM300 320h2v1h-2zM562 320h1v1h-1zM699 320h1v1h-1zM302 321h3v1h-3zM561 321h1v1h-1zM700 321h1v1h-1zM305 322h3v1h-3zM560 322h1v1h-1zM701 322h2v1h-2zM308 323h2v1h-2zM559 323h1v1h-1zM703 323h1v1h-1zM310 324h3v1h-3zM558 324h1v1h-1zM704 324h1v1h-1zM313 325h4v1h-4zM557 325h1v1h-1zM705 325h1v1h-1zM317 326h8v1h-8zM556 326h1v1h-1zM706 326h1v1h-1zM325 327h4v1h-4zM555 327h1v1h-1zM707 327h1v1h-1zM329 328h3v1h-3zM554 328h1v1h-1zM708 328h1v1h-1zM332 329h2v1h-2zM553 329h1v1h-1zM709 329h2v1h-2zM334 330h3v1h-3zM552 330h1v1h-1zM711 330h1v1h-1zM337 331h3v1h-3zM551 331h1v1h-1zM712 331h1v1h-1zM340 332h1v1h-1zM549 332h2v1h-2zM713 332h2v1h-2zM341 333h2v1h-2zM548 333h1v1h-1zM715 333h1v1h-1zM343 334h1v1h-1zM547 334h1v1h-1zM716 334h1v1h-1zM344 335h2v1h-2zM546 335h1v1h-1zM717 335h1v1h-1zM346 336h3v1h-3zM545 336h1v1h-1zM718 336h1v1h-1zM349 337h4v1h-4zM544 337h1v1h-1zM719 337h1v1h-1zM353 338h3v1h-3zM543 338h1v1h-1zM720 338h1v1h-1zM356 339h2v1h-2zM542 339h1v1h-1zM721 339h2v1h-2zM358 340h3v1h-3zM541 340h1v1h-1zM723 340h1v1h-1zM361 341h4v1h-4zM540 341h1v1h-1zM724 341h1v1h-1zM365 342h3v1h-3zM539 342h1v1h-1zM725 342h2v1h-2zM368 343h2v1h-2zM537 343h2v1h-2zM727 343h1v1h-1zM370 344h2v1h-2zM536 344h1v1h-1zM728 344h1v1h-1zM372 345h1v1h-1zM534 345h2v1h-2zM729 345h2v1h-2zM373 346h2v1h-2zM532 346h2v1h-2zM731 346h1v1h-1zM375 347h1v1h-1zM531 347h1v1h-1zM732 347h1v1h-1zM376 348h1v1h-1zM529 348h2v1h-2zM733 348h2v1h-2zM377 349h2v1h-2zM528 349h1v1h-1zM735 349h1v1h-1zM379 350h1v1h-1zM525 350h3v1h-3zM736 350h1v1h-1zM380 351h2v1h-2zM521 351h4v1h-4zM737 351h1v1h-1zM382 352h2v1h-2zM517 352h4v1h-4zM738 352h1v1h-1zM384 353h1v1h-1zM513 353h4v1h-4zM739 353h1v1h-1zM385 354h2v1h-2zM509 354h4v1h-4zM740 354h1v1h-1zM387 355h1v1h-1zM506 355h3v1h-3zM741 355h1v1h-1zM388 356h2v1h-2zM504 356h2v1h-2zM741 356h1v1h-1zM390 357h2v1h-2zM501 357h3v1h-3zM742 357h1v1h-1zM392 358h1v1h-1zM497 358h4v1h-4zM743 358h1v1h-1zM393 359h2v1h-2zM489 359h8v1h-8zM744 359h1v1h-1zM395 360h1v1h-1zM474 360h15v1h-15zM745 360h1v1h-1zM396 361h2v1h-2zM472 361h2v1h-2zM746 361h1v1h-1zM398 362h2v1h-2zM470 362h2v1h-2zM747 362h1v1h-1zM400 363h2v1h-2zM468 363h2v1h-2zM748 363h1v1h-1zM402 364h2v1h-2zM465 364h3v1h-3zM749 364h1v1h-1zM404 365h2v1h-2zM421 365h12v1h-12zM441 365h24v1h-24zM749 365h1v1h-1zM406 366h15v1h-15zM433 366h8v1h-8zM750 366h1v1h-1zM751 367h1v1h-1zM752 368h1v1h-1zM753 369h1v1h-1zM754 370h1v1h-1zM755 371h1v1h-1zM756 372h1v1h-1zM757 373h1v1h-1zM758 374h1v1h-1zM759 375h1v1h-1zM760 376h1v1h-1zM761 377h1v1h-1zM762 378h1v1h-1zM763 379h1v1h-1zM764 380h1v1h-1zM922 380h2v1h-2zM765 381h1v1h-1zM920 381h2v1h-2zM766 382h1v1h-1zM919 382h1v1h-1zM767 383h1v1h-1zM917 383h2v1h-2zM768 384h1v1h-1zM916 384h1v1h-1zM769 385h2v1h-2zM915 385h1v1h-1zM771 386h1v1h-1zM913 386h2v1h-2zM772 387h1v1h-1zM912 387h1v1h-1zM773 388h2v1h-2zM910 388h2v1h-2zM775 389h1v1h-1zM908 389h2v1h-2zM776 390h1v1h-1zM907 390h1v1h-1zM777 391h2v1h-2zM905 391h2v1h-2zM779 392h1v1h-1zM904 392h1v1h-1zM780 393h2v1h-2zM902 393h2v1h-2zM782 394h2v1h-2zM900 394h2v1h-2zM784 395h2v1h-2zM898 395h2v1h-2zM786 396h2v1h-2zM896 396h2v1h-2zM788 397h1v1h-1zM894 397h2v1h-2zM789 398h2v1h-2zM892 398h2v1h-2zM791 399h1v1h-1zM889 399h3v1h-3zM792 400h1v1h-1zM885 400h4v1h-4zM793 401h2v1h-2zM881 401h4v1h-4zM795 402h2v1h-2zM877 402h4v1h-4zM797 403h3v1h-3zM873 403h4v1h-4zM800 404h1v1h-1zM869 404h4v1h-4zM801 405h2v1h-2zM865 405h4v1h-4zM803 406h2v1h-2zM857 406h8v1h-8zM805 407h3v1h-3zM849 407h8v1h-8zM808 408h2v1h-2zM845 408h4v1h-4zM810 409h2v1h-2zM841 409h4v1h-4zM812 410h2v1h-2zM838 410h3v1h-3zM814 411h11v1h-11zM836 411h2v1h-2zM825 412h11v1h-11z" fill="#ffff00"/>
<path d="M8 105h1v1h-1zM9 106h1v1h-1zM9 107h1v1h-1zM10 108h1v1h-1zM10 109h1v1h-1zM11 110h1v1h-1zM12 111h1v1h-1zM12 112h1v1h-1zM13 113h1v1h-1zM13 114h1v1h-1zM14 115h1v1h-1zM14 116h1v1h-1zM15 117h1v1h-1zM16 118h2v1h-2zM18 119h2v1h-2zM20 120h2v1h-2zM22 121h2v1h-2zM24 122h2v1h-2zM26 123h7v1h-7zM33 124h2v1h-2zM35 125h2v1h-2zM37 126h3v1h-3zM40 127h2v1h-2zM42 128h2v1h-2zM44 129h4v1h-4zM48 130h4v1h-4zM52 131h1v1h-1zM53 132h1v1h-1zM53 133h1v1h-1zM54 134h1v1h-1zM54 135h1v1h-1zM54 136h1v1h-1zM55 137h1v1h-1zM55 138h1v1h-1zM56 139h1v1h-1zM56 140h1v1h-1zM57 141h1v1h-1zM58 142h1v1h-1zM58 143h1v1h-1zM59 144h1v1h-1zM59 145h1v1h-1zM60 146h1v1h-1zM60 147h1v1h-1zM61 148h1v1h-1zM61 149h1v1h-1zM62 150h1v1h-1zM62 151h1v1h-1zM63 152h1v1h-1zM64 153h1v1h-1zM65 154h1v1h-1zM66 155h1v1h-1zM67 156h1v1h-1zM68 157h1v1h-1zM69 158h1v1h-1zM70 159h2v1h-2zM72 160h1v1h-1zM73 161h1v1h-1zM74 162h1v1h-1zM75 163h1v1h-1zM76 164h1v1h-1zM77 165h1v1h-1zM78 166h1v1h-1zM79 167h2v1h-2zM81 168h1v1h-1zM82 169h1v1h-1zM83 170h2v1h-2zM85 171h3v1h-3zM88 172h1v1h-1zM89 173h1v1h-1zM89 174h1v1h-1zM90 175h1v1h-1zM91 176h1v1h-1zM92 177h1v1h-1zM92 178h1v1h-1zM93 179h1v1h-1zM94 180h1v1h-1zM94 181h1v1h-1zM95 182h1v1h-1zM96 183h1v1h-1zM97 184h1v1h-1zM97 185h1v1h-1zM98 186h1v1h-1zM99 187h1v1h-1zM100 188h1v1h-1zM100 189h1v1h-1zM101 190h1v1h-1zM102 191h1v1h-1zM102 192h1v1h-1zM103 193h1v1h-1zM104 194h1v1h-1zM104 195h1v1h-1zM105 196h1v1h-1zM105 197h1v1h-1zM106 198h1v1h-1zM106 199h1v1h-1zM107 200h1v1h-1zM108 201h1v1h-1zM108 202h1v1h-1zM109 203h1v1h-1zM109 204h1v1h-1zM110 205h1v1h-1zM110 206h1v1h-1zM111 207h1v1h-1zM111 208h1v1h-1zM112 209h1v1h-1zM112 210h1v1h-1zM113 211h1v1h-1zM113 212h1v1h-1zM114 213h1v1h-1zM114 214h1v1h-1zM115 215h1v1h-1zM116 216h1v1h-1zM117 217h1v1h-1zM117 218h1v1h-1zM118 219h1v1h-1zM119 220h1v1h-1zM120 221h1v1h-1zM120 222h1v1h-1zM121 223h1v1h-1zM122 224h1v1h-1zM122 225h1v1h-1zM123 226h1v1h-1zM124 227h1v1h-1zM124 228h1v1h-1zM125 229h1v1h-1zM126 230h1v1h-1zM126 231h1v1h-1zM127 232h1v1h-1zM128 233h1v1h-1zM129 234h1v1h-1zM129 235h1v1h-1zM130 236h1v1h-1zM131 237h1v1h-1zM132 238h1v1h-1zM133 239h2v1h-2zM135 240h1v1h-1zM136 241h2v1h-2zM138 242h3v1h-3zM141 243h3v1h-3zM144 244h2v1h-2zM146 245h2v1h-2zM148 246h1v1h-1zM149 247h1v1h-1zM149 248h1v1h-1zM150 249h1v1h-1zM151 250h1v1h-1zM152 251h1v1h-1zM153 252h1v1h-1zM154 253h1v1h-1zM155 254h1v1h-1zM156 255h1v1h-1zM157 256h1v1h-1zM157 257h1v1h-1zM158 258h1v1h-1zM159 259h1v1h-1zM160 260h1v1h-1zM161 261h1v1h-1zM162 262h1v1h-1zM163 263h1v1h-1zM164 264h1v1h-1zM165 265h1v1h-1zM165 266h1v1h-1zM166 267h1v1h-1zM167 268h1v1h-1zM168 269h1v1h-1zM169 270h2v1h-2zM171 271h1v1h-1zM172 272h2v1h-2zM174 273h7v1h-7zM181 274h3v1h-3zM605 274h7v1h-7zM184 275h2v1h-2zM601 275h4v1h-4zM612 275h2v1h-2zM186 276h2v1h-2zM597 276h4v1h-4zM614 276h2v1h-2zM188 277h2v1h-2zM593 277h4v1h-4zM616 277h2v1h-2zM190 278h2v1h-2zM590 278h3v1h-3zM618 278h2v1h-2zM192 279h2v1h-2zM588 279h2v1h-2zM620 279h1v1h-1zM194 280h2v1h-2zM587 280h1v1h-1zM621 280h2v1h-2zM196 281h1v1h-1zM585 281h2v1h-2zM623 281h1v1h-1zM197 282h2v1h-2zM584 282h1v1h-1zM624 282h1v1h-1zM199 283h1v1h-1zM582 283h2v1h-2zM625 283h1v1h-1zM200 284h1v1h-1zM580 284h2v1h-2zM626 284h1v1h-1zM201 285h2v1h-2zM579 285h1v1h-1zM627 285h1v1h-1zM203 286h1v1h-1zM577 286h2v1h-2zM628 286h1v1h-1zM204 287h1v1h-1zM576 287h1v1h-1zM629 287h1v1h-1zM205 288h2v1h-2zM575 288h1v1h-1zM630 288h1v1h-1zM207 289h2v1h-2zM573 289h2v1h-2zM631 289h1v1h-1zM209 290h4v1h-4zM572 290h1v1h-1zM632 290h1v1h-1zM213 291h3v1h-3zM570 291h2v1h-2zM633 291h2v1h-2zM216 292h2v1h-2zM568 292h2v1h-2zM635 292h1v1h-1zM218 293h2v1h-2zM567 293h1v1h-1zM636 293h1v1h-1zM220 294h1v1h-1zM565 294h2v1h-2zM637 294h1v1h-1zM221 295h2v1h-2zM564 295h1v1h-1zM637 295h1v1h-1zM223 296h1v1h-1zM563 296h1v1h-1zM638 296h1v1h-1zM224 297h2v1h-2zM561 297h2v1h-2zM639 297h1v1h-1zM226 298h3v1h-3zM560 298h1v1h-1zM640 298h1v1h-1zM229 299h4v1h-4zM558 299h2v1h-2zM641 299h1v1h-1zM233 300h4v1h-4zM556 300h2v1h-2zM642 300h1v1h-1zM237 301h8v1h-8zM553 301h3v1h-3zM643 301h1v1h-1zM245 302h4v1h-4zM551 302h2v1h-2zM644 302h1v1h-1zM249 303h3v1h-3zM549 303h2v1h-2zM645 303h1v1h-1zM252 304h1v1h-1zM548 304h1v1h-1zM645 304h1v1h-1zM253 305h2v1h-2zM546 305h2v1h-2zM646 305h1v1h-1zM255 306h1v1h-1zM544 306h2v1h-2zM647 306h1v1h-1zM256 307h1v1h-1zM543 307h1v1h-1zM648 307h1v1h-1zM257 308h1v1h-1zM542 308h1v1h-1zM649 308h1v1h-1zM257 309h1v1h-1zM541 309h1v1h-1zM650 309h1v1h-1zM258 310h1v1h-1zM541 310h1v1h-1zM651 310h1v1h-1zM259 311h1v1h-1zM540 311h1v1h-1zM652 311h1v1h-1zM260 312h1v1h-1zM539 312h1v1h-1zM653 312h1v1h-1zM261 313h1v1h-1zM537 313h2v1h-2zM654 313h1v1h-1zM261 314h1v1h-1zM536 314h1v1h-1zM655 314h1v1h-1zM262 315h1v1h-1zM535 315h1v1h-1zM656 315h1v1h-1zM263 316h1v1h-1zM533 316h2v1h-2zM657 316h2v1h-2zM264 317h1v1h-1zM532 317h1v1h-1zM659 317h1v1h-1zM265 318h2v1h-2zM531 318h1v1h-1zM660 318h1v1h-1zM267 319h1v1h-1zM530 319h1v1h-1zM661 319h1v1h-1zM268 320h1v1h-1zM529 320h1v1h-1zM661 320h1v1h-1zM269 321h2v1h-2zM528 321h1v1h-1zM662 321h1v1h-1zM271 322h1v1h-1zM526 322h2v1h-2zM663 322h1v1h-1zM272 323h1v1h-1zM524 323h2v1h-2zM664 323h1v1h-1zM273 324h2v1h-2zM522 324h2v1h-2zM665 324h2v1h-2zM275 325h1v1h-1zM520 325h2v1h-2zM667 325h1v1h-1zM276 326h2v1h-2zM518 326h2v1h-2zM668 326h1v1h-1zM278 327h2v1h-2zM516 327h2v1h-2zM669 327h1v1h-1zM280 328h1v1h-1zM515 328h1v1h-1zM670 328h1v1h-1zM281 329h2v1h-2zM513 329h2v1h-2zM671 329h1v1h-1zM283 330h1v1h-1zM512 330h1v1h-1zM672 330h1v1h-1zM284 331h2v1h-2zM510 331h2v1h-2zM673 331h1v1h-1zM286 332h2v1h-2zM508 332h2v1h-2zM674 332h1v1h-1zM288 333h1v1h-1zM505 333h3v1h-3zM675 333h1v1h-1zM289 334h2v1h-2zM503 334h2v1h-2zM676 334h1v1h-1zM291 335h1v1h-1zM501 335h2v1h-2zM676 335h1v1h-1zM292 336h2v1h-2zM500 336h1v1h-1zM677 336h1v1h-1zM294 337h2v1h-2zM498 337h2v1h-2zM678 337h1v1h-1zM296 338h1v1h-1zM496 338h2v1h-2zM678 338h1v1h-1zM297 339h2v1h-2zM493 339h3v1h-3zM679 339h1v1h-1zM299 340h1v1h-1zM491 340h2v1h-2zM680 340h1v1h-1zM300 341h2v1h-2zM489 341h2v1h-2zM681 341h1v1h-1zM302 342h3v1h-3zM488 342h1v1h-1zM681 342h1v1h-1zM305 343h3v1h-3zM487 343h1v1h-1zM682 343h1v1h-1zM308 344h1v1h-1zM486 344h1v1h-1zM683 344h1v1h-1zM309 345h2v1h-2zM485 345h1v1h-1zM684 345h1v1h-1zM311 346h1v1h-1zM484 346h1v1h-1zM684 346h1v1h-1zM312 347h1v1h-1zM483 347h1v1h-1zM685 347h1v1h-1zM313 348h2v1h-2zM482 348h1v1h-1zM686 348h1v1h-1zM315 349h1v1h-1zM481 349h1v1h-1zM686 349h1v1h-1zM316 350h2v1h-2zM480 350h1v1h-1zM687 350h1v1h-1zM318 351h10v1h-10zM349 351h20v1h-20zM479 351h1v1h-1zM688 351h1v1h-1zM328 352h2v1h-2zM337 352h12v1h-12zM369 352h4v1h-4zM478 352h1v1h-1zM689 352h1v1h-1zM330 353h7v1h-7zM373 353h3v1h-3zM477 353h1v1h-1zM690 353h1v1h-1zM909 353h4v1h-4zM376 354h1v1h-1zM476 354h1v1h-1zM691 354h1v1h-1zM901 354h8v1h-8zM913 354h11v1h-11zM377 355h2v1h-2zM475 355h1v1h-1zM692 355h1v1h-1zM899 355h2v1h-2zM379 356h1v1h-1zM474 356h1v1h-1zM693 356h1v1h-1zM898 356h1v1h-1zM380 357h1v1h-1zM473 357h1v1h-1zM694 357h1v1h-1zM897 357h1v1h-1zM381 358h2v1h-2zM473 358h1v1h-1zM695 358h1v1h-1zM896 358h1v1h-1zM383 359h1v1h-1zM472 359h1v1h-1zM696 359h2v1h-2zM895 359h1v1h-1zM384 360h1v1h-1zM471 360h1v1h-1zM698 360h2v1h-2zM894 360h1v1h-1zM385 361h1v1h-1zM470 361h1v1h-1zM700 361h1v1h-1zM893 361h1v1h-1zM386 362h1v1h-1zM470 362h1v1h-1zM701 362h2v1h-2zM892 362h1v1h-1zM387 363h1v1h-1zM469 363h1v1h-1zM703 363h1v1h-1zM891 363h1v1h-1zM388 364h1v1h-1zM468 364h1v1h-1zM704 364h2v1h-2zM890 364h1v1h-1zM389 365h2v1h-2zM468 365h1v1h-1zM706 365h2v1h-2zM889 365h1v1h-1zM391 366h1v1h-1zM467 366h1v1h-1zM708 366h1v1h-1zM888 366h1v1h-1zM392 367h2v1h-2zM466 367h1v1h-1zM709 367h2v1h-2zM887 367h1v1h-1zM394 368h2v1h-2zM465 368h1v1h-1zM711 368h1v1h-1zM886 368h1v1h-1zM396 369h1v1h-1zM464 369h1v1h-1zM712 369h1v1h-1zM885 369h1v1h-1zM397 370h2v1h-2zM463 370h1v1h-1zM713 370h2v1h-2zM884 370h1v1h-1zM399 371h1v1h-1zM462 371h1v1h-1zM715 371h1v1h-1zM883 371h1v1h-1zM400 372h1v1h-1zM461 372h1v1h-1zM716 372h1v1h-1zM882 372h1v1h-1zM401 373h2v1h-2zM461 373h1v1h-1zM717 373h2v1h-2zM881 373h1v1h-1zM403 374h1v1h-1zM460 374h1v1h-1zM719 374h1v1h-1zM880 374h1v1h-1zM404 375h1v1h-1zM458 375h2v1h-2zM720 375h2v1h-2zM879 375h1v1h-1zM405 376h2v1h-2zM456 376h2v1h-2zM722 376h3v1h-3zM877 376h2v1h-2zM407 377h2v1h-2zM449 377h7v1h-7zM725 377h3v1h-3zM876 377h1v1h-1zM409 378h7v1h-7zM441 378h8v1h-8zM728 378h2v1h-2zM875 378h1v1h-1zM416 379h2v1h-2zM425 379h8v1h-8zM437 379h4v1h-4zM730 379h2v1h-2zM874 379h1v1h-1zM418 380h7v1h-7zM433 380h4v1h-4zM732 380h1v1h-1zM873 380h1v1h-1zM733 381h2v1h-2zM872 381h1v1h-1zM735 382h1v1h-1zM871 382h1v1h-1zM736 383h1v1h-1zM870 383h1v1h-1zM737 384h2v1h-2zM869 384h1v1h-1zM739 385h1v1h-1zM868 385h1v1h-1zM740 386h1v1h-1zM867 386h1v1h-1zM741 387h1v1h-1zM866 387h1v1h-1zM742 388h1v1h-1zM865 388h1v1h-1zM743 389h1v1h-1zM864 389h1v1h-1zM744 390h1v1h-1zM863 390h1v1h-1zM745 391h1v1h-1zM862 391h1v1h-1zM745 392h1v1h-1zM861 392h1v1h-1zM746 393h1v1h-1zM860 393h1v1h-1zM747 394h1v1h-1zM859 394h1v1h-1zM748 395h1v1h-1zM857 395h2v1h-2zM748 396h1v1h-1zM856 396h1v1h-1zM749 397h1v1h-1zM855 397h1v1h-1zM750 398h1v1h-1zM853 398h2v1h-2zM750 399h1v1h-1zM852 399h1v1h-1zM751 400h1v1h-1zM851 400h1v1h-1zM752 401h1v1h-1zM850 401h1v1h-1zM752 402h1v1h-1zM849 402h1v1h-1zM753 403h1v1h-1zM848 403h1v1h-1zM754 404h1v1h-1zM847 404h1v1h-1zM754 405h1v1h-1zM846 405h1v1h-1zM755 406h1v1h-1zM845 406h1v1h-1zM756 407h1v1h-1zM844 407h1v1h-1zM757 408h1v1h-1zM843 408h1v1h-1zM758 409h1v1h-1zM842 409h1v1h-1zM759 410h1v1h-1zM841 410h1v1h-1zM760 411h2v1h-2zM841 411h1v1h-1zM762 412h2v1h-2zM840 412h1v1h-1zM764 413h2v1h-2zM839 413h1v1h-1zM766 414h6v1h-6zM838 414h1v1h-1zM772 415h2v1h-2zM837 415h1v1h-1zM774 416h2v1h-2zM837 416h1v1h-1zM776 417h1v1h-1zM836 417h1v1h-1zM777 418h2v1h-2zM835 418h1v1h-1zM779 419h1v1h-1zM834 419h1v1h-1zM780 420h1v1h-1zM834 420h1v1h-1zM781 421h2v1h-2zM833 421h1v1h-1zM783 422h1v1h-1zM832 422h1v1h-1zM784 423h2v1h-2zM832 423h1v1h-1zM786 424h2v1h-2zM831 424h1v1h-1zM788 425h2v1h-2zM830 425h1v1h-1zM790 426h2v1h-2zM829 426h1v1h-1zM792 427h1v1h-1zM829 427h1v1h-1zM793 428h2v1h-2zM828 428h1v1h-1zM795 429h2v1h-2zM827 429h1v1h-1zM797 430h3v1h-3zM825 430h2v1h-2zM800 431h2v1h-2zM824 431h1v1h-1zM802 432h3v1h-3zM823 432h1v1h-1zM805 433h3v1h-3zM821 433h2v1h-2zM808 434h2v1h-2zM820 434h1v1h-1zM810 435h2v1h-2zM818 435h2v1h-2zM812 436h2v1h-2zM816 436h2v1h-2zM814 437h2v1h-2z" fill="#0000cd"/>
<path d="M3 120h1v1h-1zM4 121h1v1h-1zM5 122h1v1h-1zM5 123h1v1h-1zM6 124h1v1h-1zM7 125h1v1h-1zM8 126h1v1h-1zM9 127h1v1h-1zM9 128h1v1h-1zM10 129h1v1h-1zM11 130h1v1h-1zM12 131h1v1h-1zM13 132h1v1h-1zM18 132h4v1h-4zM13 133h1v1h-1zM17 133h1v1h-1zM22 133h6v1h-6zM14 134h1v1h-1zM16 134h1v1h-1zM28 134h2v1h-2zM15 135h1v1h-1zM30 135h2v1h-2zM32 136h2v1h-2zM34 137h12v1h-12zM46 138h1v1h-1zM47 139h2v1h-2zM49 140h1v1h-1zM50 141h2v1h-2zM52 142h2v1h-2zM54 143h1v1h-1zM55 144h1v1h-1zM55 145h1v1h-1zM56 146h1v1h-1zM57 147h2v1h-2zM59 148h1v1h-1zM60 149h1v1h-1zM60 150h1v1h-1zM61 151h1v1h-1zM62 152h1v1h-1zM62 153h1v1h-1zM63 154h1v1h-1zM64 155h1v1h-1zM65 156h2v1h-2zM67 157h1v1h-1zM68 158h1v1h-1zM69 159h1v1h-1zM69 160h1v1h-1zM70 161h1v1h-1zM71 162h1v1h-1zM72 163h1v1h-1zM72 164h1v1h-1zM73 165h1v1h-1zM74 166h1v1h-1zM74 167h1v1h-1zM75 168h1v1h-1zM76 169h1v1h-1zM76 170h1v1h-1zM77 171h1v1h-1zM77 172h1v1h-1zM78 173h1v1h-1zM78 174h1v1h-1zM79 175h1v1h-1zM80 176h1v1h-1zM80 177h1v1h-1zM81 178h1v1h-1zM81 179h1v1h-1zM82 180h1v1h-1zM82 181h1v1h-1zM83 182h1v1h-1zM83 183h1v1h-1zM83 184h1v1h-1zM84 185h1v1h-1zM84 186h1v1h-1zM85 187h1v1h-1zM85 188h1v1h-1zM86 189h1v1h-1zM86 190h1v1h-1zM87 191h1v1h-1zM87 192h1v1h-1zM87 193h1v1h-1zM88 194h1v1h-1zM88 195h1v1h-1zM89 196h1v1h-1zM89 197h1v1h-1zM90 198h1v1h-1zM90 199h1v1h-1zM91 200h1v1h-1zM91 201h1v1h-1zM91 202h1v1h-1zM92 203h1v1h-1zM92 204h1v1h-1zM93 205h1v1h-1zM93 206h1v1h-1zM93 207h1v1h-1zM94 208h1v1h-1zM94 209h1v1h-1zM95 210h1v1h-1zM95 211h1v1h-1zM95 212h1v1h-1zM96 213h1v1h-1zM96 214h1v1h-1zM97 215h1v1h-1zM97 216h1v1h-1zM97 217h1v1h-1zM98 218h1v1h-1zM98 219h1v1h-1zM99 220h1v1h-1zM99 221h1v1h-1zM100 222h1v1h-1zM100 223h1v1h-1zM101 224h1v1h-1zM101 225h1v1h-1zM102 226h1v1h-1zM102 227h1v1h-1zM103 228h1v1h-1zM104 229h1v1h-1zM104 230h1v1h-1zM105 231h1v1h-1zM106 232h1v1h-1zM106 233h1v1h-1zM107 234h1v1h-1zM108 235h1v1h-1zM109 236h1v1h-1zM110 237h1v1h-1zM111 238h2v1h-2zM113 239h7v1h-7zM120 240h1v1h-1zM121 241h2v1h-2zM123 242h1v1h-1zM124 243h1v1h-1zM125 244h2v1h-2zM127 245h1v1h-1zM128 246h1v1h-1zM129 247h1v1h-1zM130 248h1v1h-1zM131 249h1v1h-1zM132 250h2v1h-2zM134 251h2v1h-2zM136 252h1v1h-1zM137 253h2v1h-2zM139 254h1v1h-1zM140 255h1v1h-1zM141 256h2v1h-2zM143 257h2v1h-2zM145 258h4v1h-4zM149 259h3v1h-3zM152 260h1v1h-1zM153 261h2v1h-2zM155 262h1v1h-1zM156 263h1v1h-1zM157 264h1v1h-1zM157 265h1v1h-1zM589 265h7v1h-7zM158 266h1v1h-1zM585 266h4v1h-4zM596 266h1v1h-1zM159 267h1v1h-1zM582 267h3v1h-3zM597 267h2v1h-2zM160 268h1v1h-1zM580 268h2v1h-2zM599 268h1v1h-1zM161 269h2v1h-2zM579 269h1v1h-1zM600 269h1v1h-1zM163 270h1v1h-1zM577 270h2v1h-2zM601 270h1v1h-1zM164 271h1v1h-1zM576 271h1v1h-1zM602 271h1v1h-1zM165 272h2v1h-2zM575 272h1v1h-1zM603 272h1v1h-1zM167 273h1v1h-1zM573 273h2v1h-2zM604 273h1v1h-1zM168 274h1v1h-1zM572 274h1v1h-1zM605 274h2v1h-2zM169 275h1v1h-1zM571 275h1v1h-1zM607 275h1v1h-1zM170 276h1v1h-1zM569 276h2v1h-2zM608 276h1v1h-1zM171 277h1v1h-1zM568 277h1v1h-1zM609 277h2v1h-2zM172 278h1v1h-1zM567 278h1v1h-1zM611 278h1v1h-1zM173 279h2v1h-2zM565 279h2v1h-2zM612 279h1v1h-1zM175 280h1v1h-1zM564 280h1v1h-1zM613 280h1v1h-1zM176 281h1v1h-1zM563 281h1v1h-1zM614 281h1v1h-1zM177 282h2v1h-2zM562 282h1v1h-1zM615 282h1v1h-1zM179 283h2v1h-2zM561 283h1v1h-1zM616 283h1v1h-1zM181 284h3v1h-3zM561 284h1v1h-1zM616 284h1v1h-1zM184 285h1v1h-1zM560 285h1v1h-1zM617 285h1v1h-1zM185 286h2v1h-2zM559 286h1v1h-1zM618 286h1v1h-1zM187 287h1v1h-1zM558 287h1v1h-1zM618 287h1v1h-1zM188 288h1v1h-1zM557 288h1v1h-1zM619 288h1v1h-1zM189 289h2v1h-2zM556 289h1v1h-1zM620 289h1v1h-1zM191 290h1v1h-1zM555 290h1v1h-1zM621 290h1v1h-1zM192 291h1v1h-1zM554 291h1v1h-1zM621 291h1v1h-1zM193 292h1v1h-1zM554 292h1v1h-1zM622 292h1v1h-1zM193 293h1v1h-1zM553 293h1v1h-1zM623 293h1v1h-1zM194 294h1v1h-1zM552 294h1v1h-1zM624 294h1v1h-1zM195 295h1v1h-1zM552 295h1v1h-1zM625 295h2v1h-2zM196 296h1v1h-1zM217 296h4v1h-4zM551 296h1v1h-1zM627 296h1v1h-1zM197 297h2v1h-2zM215 297h2v1h-2zM221 297h8v1h-8zM550 297h1v1h-1zM628 297h1v1h-1zM199 298h1v1h-1zM213 298h2v1h-2zM229 298h4v1h-4zM549 298h1v1h-1zM629 298h1v1h-1zM200 299h1v1h-1zM212 299h1v1h-1zM233 299h3v1h-3zM548 299h1v1h-1zM629 299h1v1h-1zM201 300h2v1h-2zM209 300h3v1h-3zM236 300h1v1h-1zM547 300h1v1h-1zM630 300h1v1h-1zM203 301h6v1h-6zM237 301h2v1h-2zM546 301h1v1h-1zM631 301h1v1h-1zM239 302h1v1h-1zM546 302h1v1h-1zM632 302h1v1h-1zM240 303h1v1h-1zM545 303h1v1h-1zM633 303h1v1h-1zM241 304h2v1h-2zM544 304h1v1h-1zM633 304h1v1h-1zM243 305h2v1h-2zM544 305h1v1h-1zM634 305h1v1h-1zM245 306h4v1h-4zM543 306h1v1h-1zM635 306h1v1h-1zM249 307h3v1h-3zM542 307h1v1h-1zM636 307h1v1h-1zM252 308h1v1h-1zM541 308h1v1h-1zM636 308h1v1h-1zM253 309h1v1h-1zM541 309h1v1h-1zM637 309h1v1h-1zM253 310h1v1h-1zM540 310h1v1h-1zM638 310h1v1h-1zM254 311h1v1h-1zM539 311h1v1h-1zM638 311h1v1h-1zM255 312h1v1h-1zM538 312h1v1h-1zM639 312h1v1h-1zM256 313h1v1h-1zM537 313h1v1h-1zM640 313h1v1h-1zM256 314h1v1h-1zM536 314h1v1h-1zM640 314h1v1h-1zM257 315h1v1h-1zM534 315h2v1h-2zM641 315h1v1h-1zM258 316h1v1h-1zM514 316h3v1h-3zM532 316h2v1h-2zM642 316h1v1h-1zM258 317h1v1h-1zM512 317h2v1h-2zM517 317h7v1h-7zM530 317h2v1h-2zM642 317h1v1h-1zM259 318h1v1h-1zM511 318h1v1h-1zM524 318h2v1h-2zM528 318h2v1h-2zM643 318h1v1h-1zM260 319h1v1h-1zM509 319h2v1h-2zM526 319h2v1h-2zM644 319h1v1h-1zM261 320h1v1h-1zM508 320h1v1h-1zM645 320h1v1h-1zM261 321h1v1h-1zM506 321h2v1h-2zM645 321h1v1h-1zM262 322h1v1h-1zM504 322h2v1h-2zM646 322h1v1h-1zM263 323h1v1h-1zM503 323h1v1h-1zM647 323h1v1h-1zM264 324h1v1h-1zM501 324h2v1h-2zM648 324h1v1h-1zM265 325h1v1h-1zM500 325h1v1h-1zM648 325h1v1h-1zM265 326h1v1h-1zM497 326h3v1h-3zM649 326h1v1h-1zM266 327h1v1h-1zM494 327h3v1h-3zM650 327h1v1h-1zM267 328h1v1h-1zM492 328h2v1h-2zM650 328h1v1h-1zM268 329h1v1h-1zM490 329h2v1h-2zM651 329h1v1h-1zM268 330h1v1h-1zM488 330h2v1h-2zM652 330h1v1h-1zM269 331h1v1h-1zM487 331h1v1h-1zM653 331h1v1h-1zM270 332h1v1h-1zM486 332h1v1h-1zM654 332h1v1h-1zM270 333h1v1h-1zM485 333h1v1h-1zM655 333h1v1h-1zM271 334h1v1h-1zM484 334h1v1h-1zM656 334h1v1h-1zM272 335h1v1h-1zM482 335h2v1h-2zM657 335h1v1h-1zM273 336h1v1h-1zM480 336h2v1h-2zM658 336h1v1h-1zM274 337h1v1h-1zM479 337h1v1h-1zM659 337h1v1h-1zM275 338h1v1h-1zM477 338h2v1h-2zM660 338h1v1h-1zM276 339h1v1h-1zM476 339h1v1h-1zM661 339h2v1h-2zM277 340h2v1h-2zM475 340h1v1h-1zM663 340h1v1h-1zM279 341h1v1h-1zM474 341h1v1h-1zM664 341h1v1h-1zM280 342h1v1h-1zM473 342h1v1h-1zM665 342h2v1h-2zM281 343h1v1h-1zM472 343h1v1h-1zM667 343h1v1h-1zM282 344h1v1h-1zM471 344h1v1h-1zM668 344h2v1h-2zM283 345h1v1h-1zM337 345h4v1h-4zM470 345h1v1h-1zM670 345h2v1h-2zM284 346h1v1h-1zM333 346h4v1h-4zM341 346h3v1h-3zM470 346h1v1h-1zM672 346h2v1h-2zM285 347h1v1h-1zM327 347h6v1h-6zM344 347h2v1h-2zM469 347h1v1h-1zM674 347h2v1h-2zM285 348h1v1h-1zM325 348h2v1h-2zM346 348h3v1h-3zM469 348h1v1h-1zM676 348h1v1h-1zM286 349h1v1h-1zM324 349h1v1h-1zM349 349h4v1h-4zM468 349h1v1h-1zM677 349h1v1h-1zM287 350h1v1h-1zM322 350h2v1h-2zM353 350h3v1h-3zM468 350h1v1h-1zM677 350h1v1h-1zM288 351h1v1h-1zM320 351h2v1h-2zM356 351h1v1h-1zM467 351h1v1h-1zM678 351h1v1h-1zM917 351h7v1h-7zM289 352h1v1h-1zM319 352h1v1h-1zM357 352h2v1h-2zM465 352h2v1h-2zM679 352h1v1h-1zM905 352h12v1h-12zM290 353h1v1h-1zM317 353h2v1h-2zM359 353h10v1h-10zM464 353h1v1h-1zM680 353h1v1h-1zM901 353h4v1h-4zM291 354h2v1h-2zM316 354h1v1h-1zM369 354h3v1h-3zM463 354h1v1h-1zM680 354h1v1h-1zM893 354h8v1h-8zM293 355h4v1h-4zM314 355h2v1h-2zM372 355h1v1h-1zM462 355h1v1h-1zM681 355h1v1h-1zM889 355h4v1h-4zM297 356h8v1h-8zM312 356h2v1h-2zM373 356h1v1h-1zM461 356h1v1h-1zM682 356h1v1h-1zM882 356h7v1h-7zM305 357h7v1h-7zM374 357h1v1h-1zM461 357h1v1h-1zM682 357h1v1h-1zM880 357h2v1h-2zM375 358h1v1h-1zM460 358h1v1h-1zM683 358h1v1h-1zM873 358h7v1h-7zM376 359h1v1h-1zM459 359h1v1h-1zM684 359h1v1h-1zM871 359h2v1h-2zM377 360h1v1h-1zM458 360h1v1h-1zM685 360h1v1h-1zM870 360h1v1h-1zM377 361h1v1h-1zM457 361h1v1h-1zM685 361h1v1h-1zM870 361h1v1h-1zM378 362h1v1h-1zM456 362h1v1h-1zM686 362h1v1h-1zM869 362h1v1h-1zM379 363h1v1h-1zM455 363h1v1h-1zM687 363h1v1h-1zM868 363h1v1h-1zM380 364h1v1h-1zM454 364h1v1h-1zM688 364h1v1h-1zM868 364h1v1h-1zM381 365h1v1h-1zM453 365h1v1h-1zM689 365h1v1h-1zM867 365h1v1h-1zM381 366h1v1h-1zM453 366h1v1h-1zM689 366h1v1h-1zM866 366h1v1h-1zM382 367h1v1h-1zM452 367h1v1h-1zM690 367h1v1h-1zM865 367h1v1h-1zM383 368h1v1h-1zM451 368h1v1h-1zM691 368h2v1h-2zM864 368h1v1h-1zM384 369h1v1h-1zM450 369h1v1h-1zM693 369h3v1h-3zM863 369h1v1h-1zM385 370h2v1h-2zM449 370h1v1h-1zM696 370h2v1h-2zM862 370h1v1h-1zM387 371h1v1h-1zM448 371h1v1h-1zM698 371h2v1h-2zM861 371h1v1h-1zM388 372h1v1h-1zM447 372h1v1h-1zM700 372h2v1h-2zM861 372h1v1h-1zM388 373h1v1h-1zM445 373h2v1h-2zM702 373h2v1h-2zM860 373h1v1h-1zM389 374h1v1h-1zM444 374h1v1h-1zM704 374h2v1h-2zM859 374h1v1h-1zM390 375h1v1h-1zM443 375h1v1h-1zM706 375h2v1h-2zM858 375h1v1h-1zM390 376h1v1h-1zM442 376h1v1h-1zM708 376h2v1h-2zM857 376h1v1h-1zM391 377h1v1h-1zM441 377h1v1h-1zM710 377h2v1h-2zM857 377h1v1h-1zM392 378h1v1h-1zM441 378h1v1h-1zM712 378h1v1h-1zM856 378h1v1h-1zM393 379h1v1h-1zM440 379h1v1h-1zM713 379h1v1h-1zM855 379h1v1h-1zM394 380h1v1h-1zM439 380h1v1h-1zM714 380h1v1h-1zM854 380h1v1h-1zM395 381h1v1h-1zM438 381h1v1h-1zM715 381h1v1h-1zM853 381h1v1h-1zM396 382h2v1h-2zM437 382h1v1h-1zM716 382h1v1h-1zM852 382h1v1h-1zM398 383h2v1h-2zM436 383h1v1h-1zM717 383h2v1h-2zM851 383h1v1h-1zM400 384h2v1h-2zM435 384h1v1h-1zM719 384h1v1h-1zM850 384h1v1h-1zM402 385h2v1h-2zM433 385h2v1h-2zM720 385h1v1h-1zM849 385h1v1h-1zM404 386h1v1h-1zM432 386h1v1h-1zM721 386h1v1h-1zM849 386h1v1h-1zM405 387h2v1h-2zM409 387h4v1h-4zM429 387h3v1h-3zM722 387h1v1h-1zM848 387h1v1h-1zM407 388h2v1h-2zM413 388h4v1h-4zM421 388h8v1h-8zM723 388h1v1h-1zM847 388h1v1h-1zM417 389h4v1h-4zM724 389h1v1h-1zM846 389h1v1h-1zM725 390h2v1h-2zM846 390h1v1h-1zM727 391h1v1h-1zM845 391h1v1h-1zM728 392h2v1h-2zM844 392h1v1h-1zM730 393h7v1h-7zM844 393h1v1h-1zM737 394h3v1h-3zM843 394h1v1h-1zM740 395h2v1h-2zM842 395h1v1h-1zM742 396h2v1h-2zM841 396h1v1h-1zM744 397h1v1h-1zM841 397h1v1h-1zM745 398h2v1h-2zM840 398h1v1h-1zM747 399h1v1h-1zM839 399h1v1h-1zM748 400h1v1h-1zM838 400h1v1h-1zM748 401h1v1h-1zM838 401h1v1h-1zM749 402h1v1h-1zM837 402h1v1h-1zM749 403h1v1h-1zM836 403h1v1h-1zM750 404h1v1h-1zM836 404h1v1h-1zM750 405h1v1h-1zM835 405h1v1h-1zM751 406h1v1h-1zM834 406h1v1h-1zM752 407h1v1h-1zM834 407h1v1h-1zM752 408h1v1h-1zM833 408h1v1h-1zM753 409h1v1h-1zM833 409h1v1h-1zM753 410h1v1h-1zM832 410h1v1h-1zM754 411h1v1h-1zM832 411h1v1h-1zM754 412h1v1h-1zM831 412h1v1h-1zM755 413h1v1h-1zM830 413h1v1h-1zM756 414h1v1h-1zM830 414h1v1h-1zM757 415h1v1h-1zM829 415h1v1h-1zM757 416h1v1h-1zM828 416h1v1h-1zM758 417h1v1h-1zM828 417h1v1h-1zM759 418h1v1h-1zM827 418h1v1h-1zM760 419h1v1h-1zM826 419h1v1h-1zM761 420h1v1h-1zM825 420h1v1h-1zM762 421h1v1h-1zM824 421h1v1h-1zM763 422h1v1h-1zM823 422h1v1h-1zM764 423h1v1h-1zM822 423h1v1h-1zM765 424h1v1h-1zM822 424h1v1h-1zM766 425h1v1h-1zM821 425h1v1h-1zM767 426h1v1h-1zM820 426h1v1h-1zM768 427h2v1h-2zM820 427h1v1h-1zM770 428h2v1h-2zM819 428h1v1h-1zM772 429h1v1h-1zM818 429h1v1h-1zM773 430h2v1h-2zM817 430h1v1h-1zM775 431h1v1h-1zM817 431h1v1h-1zM776 432h1v1h-1zM816 432h1v1h-1zM777 433h2v1h-2zM814 433h2v1h-2zM779 434h1v1h-1zM812 434h2v1h-2zM780 435h1v1h-1zM811 435h1v1h-1zM781 436h1v1h-1zM809 436h2v1h-2zM782 437h1v1h-1zM808 437h1v1h-1zM783 438h1v1h-1zM807 438h1v1h-1zM784 439h1v1h-1zM805 439h2v1h-2zM785 440h2v1h-2zM804 440h1v1h-1zM787 441h1v1h-1zM802 441h2v1h-2zM788 442h2v1h-2zM800 442h2v1h-2zM790 443h3v1h-3zM797 443h3v1h-3zM793 444h4v1h-4z" fill="#ff0000"/>
</g>
<rect x="3" y="27" width="225" height="78" fill="#fff"/>
<path d="M6,37 L13,37 L9.5,33 Z" fill="#000"/>
<text x="18.6" y="38.0" font-size="9.7" fill="#000" textLength="65" lengthAdjust="spacingAndGlyphs">USDCNH,Daily</text>
<text x="90" y="38.0" font-size="9.7" fill="#000" textLength="140.4" lengthAdjust="spacingAndGlyphs">6.48065 6.48098 6.47161 6.47321</text>
<rect x="6.5" y="46.5" width="51" height="24" fill="url(#gBtn)" stroke="#0000a8" stroke-width="1" shape-rendering="crispEdges"/>
<rect x="173.5" y="46.5" width="51" height="24" fill="url(#gBtn)" stroke="#0000a8" stroke-width="1" shape-rendering="crispEdges"/>
<rect x="6.5" y="69.5" width="108" height="33" fill="url(#gPx)" stroke="#0000a8" stroke-width="1" shape-rendering="crispEdges"/>
<rect x="117.5" y="69.5" width="107" height="33" fill="url(#gPx)" stroke="#0000a8" stroke-width="1" shape-rendering="crispEdges"/>
<rect x="7" y="47" width="50" height="23" fill="url(#gBtn)"/>
<rect x="174" y="47" width="50" height="23" fill="url(#gBtn)"/>
<rect x="10" y="69" width="44" height="1" fill="#000090"/><rect x="10" y="70" width="44" height="1" fill="#6c6cff"/>
<rect x="177" y="69" width="44" height="1" fill="#000090"/><rect x="177" y="70" width="44" height="1" fill="#6c6cff"/>
<text x="18.6" y="62" font-size="12.6" fill="#fff" textLength="25.6" lengthAdjust="spacingAndGlyphs">SELL</text>
<text x="186.8" y="61.8" font-size="12.6" fill="#fff" textLength="23" lengthAdjust="spacingAndGlyphs">BUY</text>
<rect x="58" y="46" width="115" height="24" fill="#fff"/>
<rect x="60.5" y="46.5" width="110" height="21" fill="#fff" stroke="#ababab" stroke-width="1" shape-rendering="crispEdges"/>
<rect x="62" y="48" width="18" height="18" fill="url(#gSpin)"/>
<rect x="151" y="48" width="18" height="18" fill="url(#gSpin)"/>
<rect x="81" y="47" width="1" height="20" fill="#ababab"/><rect x="149" y="47" width="1" height="20" fill="#ababab"/>
<path d="M67.5,55 L73.5,55 L70.5,58.2 Z" fill="#4d5fae"/>
<path d="M156.5,58.2 L162.5,58.2 L159.5,55 Z" fill="#4d5fae"/>
<text x="122.7" y="60.9" font-size="12.3" fill="#000" textLength="22.7" lengthAdjust="spacingAndGlyphs">3.00</text>
<text x="25.6" y="98.2" font-size="13.3" font-weight="bold" fill="#fff" textLength="24" lengthAdjust="spacingAndGlyphs">6.47</text>
<text x="53.4" y="98.2" font-size="35.5" fill="#fff" textLength="35" lengthAdjust="spacingAndGlyphs">32</text>
<text x="92.2" y="81.9" font-size="12.3" font-weight="bold" fill="#fff" textLength="7.6" lengthAdjust="spacingAndGlyphs">4</text>
<text x="135.6" y="98.2" font-size="13.3" font-weight="bold" fill="#fff" textLength="24" lengthAdjust="spacingAndGlyphs">6.47</text>
<text x="164.8" y="98.2" font-size="35.5" fill="#fff" textLength="34.6" lengthAdjust="spacingAndGlyphs">52</text>
<text x="203.6" y="81.9" font-size="12.3" font-weight="bold" fill="#fff" textLength="7" lengthAdjust="spacingAndGlyphs">7</text>
<g clip-path="url(#cMacd)" shape-rendering="crispEdges">
<rect x="2" y="521" width="3" height="47" fill="#c0c0c0"/>
<rect x="6" y="521" width="3" height="45" fill="#c0c0c0"/>
<rect x="10" y="521" width="3" height="44" fill="#c0c0c0"/>
<rect x="14" y="521" width="3" height="43" fill="#c0c0c0"/>
<rect x="18" y="521" width="3" height="39" fill="#c0c0c0"/>
<rect x="22" y="521" width="3" height="35" fill="#c0c0c0"/>
<rect x="26" y="521" width="3" height="30" fill="#c0c0c0"/>
<rect x="30" y="521" width="3" height="24" fill="#c0c0c0"/>
<rect x="34" y="521" width="3" height="24" fill="#c0c0c0"/>
<rect x="38" y="521" width="3" height="22" fill="#c0c0c0"/>
<rect x="42" y="521" width="3" height="22" fill="#c0c0c0"/>
<rect x="46" y="521" width="3" height="22" fill="#c0c0c0"/>
<rect x="50" y="521" width="3" height="26" fill="#c0c0c0"/>
<rect x="54" y="521" width="3" height="32" fill="#c0c0c0"/>
<rect x="58" y="521" width="3" height="37" fill="#c0c0c0"/>
<rect x="62" y="521" width="3" height="42" fill="#c0c0c0"/>
<rect x="66" y="521" width="3" height="42" fill="#c0c0c0"/>
<rect x="70" y="521" width="3" height="41" fill="#c0c0c0"/>
<rect x="74" y="521" width="3" height="42" fill="#c0c0c0"/>
<rect x="78" y="521" width="3" height="42" fill="#c0c0c0"/>
<rect x="82" y="521" width="3" height="41" fill="#c0c0c0"/>
<rect x="86" y="521" width="3" height="41" fill="#c0c0c0"/>
<rect x="90" y="521" width="3" height="43" fill="#c0c0c0"/>
<rect x="94" y="521" width="3" height="46" fill="#c0c0c0"/>
<rect x="98" y="521" width="3" height="48" fill="#c0c0c0"/>
<rect x="102" y="521" width="3" height="46" fill="#c0c0c0"/>
<rect x="106" y="521" width="3" height="47" fill="#c0c0c0"/>
<rect x="110" y="521" width="3" height="47" fill="#c0c0c0"/>
<rect x="114" y="521" width="3" height="44" fill="#c0c0c0"/>
<rect x="118" y="521" width="3" height="40" fill="#c0c0c0"/>
<rect x="122" y="521" width="3" height="38" fill="#c0c0c0"/>
<rect x="126" y="521" width="3" height="37" fill="#c0c0c0"/>
<rect x="130" y="521" width="3" height="35" fill="#c0c0c0"/>
<rect x="134" y="521" width="3" height="34" fill="#c0c0c0"/>
<rect x="138" y="521" width="3" height="32" fill="#c0c0c0"/>
<rect x="142" y="521" width="3" height="32" fill="#c0c0c0"/>
<rect x="146" y="521" width="3" height="32" fill="#c0c0c0"/>
<rect x="150" y="521" width="3" height="34" fill="#c0c0c0"/>
<rect x="154" y="521" width="3" height="35" fill="#c0c0c0"/>
<rect x="158" y="521" width="3" height="37" fill="#c0c0c0"/>
<rect x="162" y="521" width="3" height="38" fill="#c0c0c0"/>
<rect x="166" y="521" width="3" height="38" fill="#c0c0c0"/>
<rect x="170" y="521" width="3" height="37" fill="#c0c0c0"/>
<rect x="174" y="521" width="3" height="34" fill="#c0c0c0"/>
<rect x="178" y="521" width="3" height="32" fill="#c0c0c0"/>
<rect x="182" y="521" width="3" height="30" fill="#c0c0c0"/>
<rect x="186" y="521" width="3" height="28" fill="#c0c0c0"/>
<rect x="190" y="521" width="3" height="28" fill="#c0c0c0"/>
<rect x="194" y="521" width="3" height="26" fill="#c0c0c0"/>
<rect x="198" y="521" width="3" height="26" fill="#c0c0c0"/>
<rect x="202" y="521" width="3" height="26" fill="#c0c0c0"/>
<rect x="206" y="521" width="3" height="24" fill="#c0c0c0"/>
<rect x="210" y="521" width="3" height="22" fill="#c0c0c0"/>
<rect x="214" y="521" width="3" height="21" fill="#c0c0c0"/>
<rect x="218" y="521" width="3" height="19" fill="#c0c0c0"/>
<rect x="222" y="521" width="3" height="20" fill="#c0c0c0"/>
<rect x="226" y="521" width="3" height="20" fill="#c0c0c0"/>
<rect x="230" y="521" width="3" height="18" fill="#c0c0c0"/>
<rect x="234" y="521" width="3" height="17" fill="#c0c0c0"/>
<rect x="238" y="521" width="3" height="16" fill="#c0c0c0"/>
<rect x="242" y="521" width="3" height="19" fill="#c0c0c0"/>
<rect x="246" y="521" width="3" height="19" fill="#c0c0c0"/>
<rect x="250" y="521" width="3" height="20" fill="#c0c0c0"/>
<rect x="254" y="521" width="3" height="24" fill="#c0c0c0"/>
<rect x="258" y="521" width="3" height="30" fill="#c0c0c0"/>
<rect x="262" y="521" width="3" height="32" fill="#c0c0c0"/>
<rect x="266" y="521" width="3" height="32" fill="#c0c0c0"/>
<rect x="270" y="521" width="3" height="32" fill="#c0c0c0"/>
<rect x="274" y="521" width="3" height="30" fill="#c0c0c0"/>
<rect x="278" y="521" width="3" height="28" fill="#c0c0c0"/>
<rect x="282" y="521" width="3" height="28" fill="#c0c0c0"/>
<rect x="286" y="521" width="3" height="28" fill="#c0c0c0"/>
<rect x="290" y="521" width="3" height="26" fill="#c0c0c0"/>
<rect x="294" y="521" width="3" height="24" fill="#c0c0c0"/>
<rect x="298" y="521" width="3" height="21" fill="#c0c0c0"/>
<rect x="302" y="521" width="3" height="18" fill="#c0c0c0"/>
<rect x="306" y="521" width="3" height="17" fill="#c0c0c0"/>
<rect x="310" y="521" width="3" height="18" fill="#c0c0c0"/>
<rect x="314" y="521" width="3" height="18" fill="#c0c0c0"/>
<rect x="318" y="521" width="3" height="15" fill="#c0c0c0"/>
<rect x="322" y="521" width="3" height="12" fill="#c0c0c0"/>
<rect x="326" y="521" width="3" height="10" fill="#c0c0c0"/>
<rect x="330" y="521" width="3" height="11" fill="#c0c0c0"/>
<rect x="334" y="521" width="3" height="9" fill="#c0c0c0"/>
<rect x="338" y="521" width="3" height="9" fill="#c0c0c0"/>
<rect x="342" y="521" width="3" height="13" fill="#c0c0c0"/>
<rect x="346" y="521" width="3" height="14" fill="#c0c0c0"/>
<rect x="350" y="521" width="3" height="13" fill="#c0c0c0"/>
<rect x="354" y="521" width="3" height="13" fill="#c0c0c0"/>
<rect x="358" y="521" width="3" height="13" fill="#c0c0c0"/>
<rect x="362" y="521" width="3" height="11" fill="#c0c0c0"/>
<rect x="366" y="521" width="3" height="11" fill="#c0c0c0"/>
<rect x="370" y="521" width="3" height="12" fill="#c0c0c0"/>
<rect x="374" y="521" width="3" height="14" fill="#c0c0c0"/>
<rect x="378" y="521" width="3" height="17" fill="#c0c0c0"/>
<rect x="382" y="521" width="3" height="19" fill="#c0c0c0"/>
<rect x="386" y="521" width="3" height="21" fill="#c0c0c0"/>
<rect x="390" y="521" width="3" height="22" fill="#c0c0c0"/>
<rect x="394" y="521" width="3" height="22" fill="#c0c0c0"/>
<rect x="398" y="521" width="3" height="24" fill="#c0c0c0"/>
<rect x="402" y="521" width="3" height="24" fill="#c0c0c0"/>
<rect x="406" y="521" width="3" height="21" fill="#c0c0c0"/>
<rect x="410" y="521" width="3" height="17" fill="#c0c0c0"/>
<rect x="414" y="521" width="3" height="13" fill="#c0c0c0"/>
<rect x="418" y="521" width="3" height="10" fill="#c0c0c0"/>
<rect x="422" y="521" width="3" height="7" fill="#c0c0c0"/>
<rect x="426" y="521" width="3" height="6" fill="#c0c0c0"/>
<rect x="430" y="521" width="3" height="4" fill="#c0c0c0"/>
<rect x="434" y="521" width="3" height="3" fill="#c0c0c0"/>
<rect x="438" y="521" width="3" height="2" fill="#c0c0c0"/>
<rect x="442" y="518" width="3" height="3" fill="#c0c0c0"/>
<rect x="446" y="518" width="3" height="3" fill="#c0c0c0"/>
<rect x="450" y="517" width="3" height="4" fill="#c0c0c0"/>
<rect x="454" y="516" width="3" height="5" fill="#c0c0c0"/>
<rect x="458" y="516" width="3" height="5" fill="#c0c0c0"/>
<rect x="462" y="511" width="3" height="10" fill="#c0c0c0"/>
<rect x="466" y="508" width="3" height="13" fill="#c0c0c0"/>
<rect x="470" y="502" width="3" height="19" fill="#c0c0c0"/>
<rect x="474" y="501" width="3" height="20" fill="#c0c0c0"/>
<rect x="478" y="501" width="3" height="20" fill="#c0c0c0"/>
<rect x="482" y="503" width="3" height="18" fill="#c0c0c0"/>
<rect x="486" y="504" width="3" height="17" fill="#c0c0c0"/>
<rect x="490" y="505" width="3" height="16" fill="#c0c0c0"/>
<rect x="494" y="506" width="3" height="15" fill="#c0c0c0"/>
<rect x="498" y="507" width="3" height="14" fill="#c0c0c0"/>
<rect x="502" y="507" width="3" height="14" fill="#c0c0c0"/>
<rect x="506" y="508" width="3" height="13" fill="#c0c0c0"/>
<rect x="510" y="508" width="3" height="13" fill="#c0c0c0"/>
<rect x="514" y="508" width="3" height="13" fill="#c0c0c0"/>
<rect x="518" y="509" width="3" height="12" fill="#c0c0c0"/>
<rect x="522" y="509" width="3" height="12" fill="#c0c0c0"/>
<rect x="526" y="508" width="3" height="13" fill="#c0c0c0"/>
<rect x="530" y="505" width="3" height="16" fill="#c0c0c0"/>
<rect x="534" y="503" width="3" height="18" fill="#c0c0c0"/>
<rect x="538" y="502" width="3" height="19" fill="#c0c0c0"/>
<rect x="542" y="499" width="3" height="22" fill="#c0c0c0"/>
<rect x="546" y="496" width="3" height="25" fill="#c0c0c0"/>
<rect x="550" y="495" width="3" height="26" fill="#c0c0c0"/>
<rect x="554" y="494" width="3" height="27" fill="#c0c0c0"/>
<rect x="558" y="493" width="3" height="28" fill="#c0c0c0"/>
<rect x="562" y="493" width="3" height="28" fill="#c0c0c0"/>
<rect x="566" y="495" width="3" height="26" fill="#c0c0c0"/>
<rect x="570" y="498" width="3" height="23" fill="#c0c0c0"/>
<rect x="574" y="501" width="3" height="20" fill="#c0c0c0"/>
<rect x="578" y="501" width="3" height="20" fill="#c0c0c0"/>
<rect x="582" y="502" width="3" height="19" fill="#c0c0c0"/>
<rect x="586" y="503" width="3" height="18" fill="#c0c0c0"/>
<rect x="590" y="505" width="3" height="16" fill="#c0c0c0"/>
<rect x="594" y="507" width="3" height="14" fill="#c0c0c0"/>
<rect x="598" y="510" width="3" height="11" fill="#c0c0c0"/>
<rect x="602" y="513" width="3" height="8" fill="#c0c0c0"/>
<rect x="606" y="516" width="3" height="5" fill="#c0c0c0"/>
<rect x="610" y="518" width="3" height="3" fill="#c0c0c0"/>
<rect x="614" y="520" width="3" height="1" fill="#c0c0c0"/>
<rect x="618" y="521" width="3" height="5" fill="#c0c0c0"/>
<rect x="622" y="521" width="3" height="9" fill="#c0c0c0"/>
<rect x="626" y="521" width="3" height="12" fill="#c0c0c0"/>
<rect x="630" y="521" width="3" height="14" fill="#c0c0c0"/>
<rect x="634" y="521" width="3" height="15" fill="#c0c0c0"/>
<rect x="638" y="521" width="3" height="17" fill="#c0c0c0"/>
<rect x="642" y="521" width="3" height="19" fill="#c0c0c0"/>
<rect x="646" y="521" width="3" height="21" fill="#c0c0c0"/>
<rect x="650" y="521" width="3" height="22" fill="#c0c0c0"/>
<rect x="654" y="521" width="3" height="22" fill="#c0c0c0"/>
<rect x="658" y="521" width="3" height="22" fill="#c0c0c0"/>
<rect x="662" y="521" width="3" height="22" fill="#c0c0c0"/>
<rect x="666" y="521" width="3" height="21" fill="#c0c0c0"/>
<rect x="670" y="521" width="3" height="21" fill="#c0c0c0"/>
<rect x="674" y="521" width="3" height="21" fill="#c0c0c0"/>
<rect x="678" y="521" width="3" height="24" fill="#c0c0c0"/>
<rect x="682" y="521" width="3" height="28" fill="#c0c0c0"/>
<rect x="686" y="521" width="3" height="32" fill="#c0c0c0"/>
<rect x="690" y="521" width="3" height="32" fill="#c0c0c0"/>
<rect x="694" y="521" width="3" height="30" fill="#c0c0c0"/>
<rect x="698" y="521" width="3" height="26" fill="#c0c0c0"/>
<rect x="702" y="521" width="3" height="26" fill="#c0c0c0"/>
<rect x="706" y="521" width="3" height="26" fill="#c0c0c0"/>
<rect x="710" y="521" width="3" height="24" fill="#c0c0c0"/>
<rect x="714" y="521" width="3" height="26" fill="#c0c0c0"/>
<rect x="718" y="521" width="3" height="26" fill="#c0c0c0"/>
<rect x="722" y="521" width="3" height="24" fill="#c0c0c0"/>
<rect x="726" y="521" width="3" height="22" fill="#c0c0c0"/>
<rect x="730" y="521" width="3" height="22" fill="#c0c0c0"/>
<rect x="734" y="521" width="3" height="22" fill="#c0c0c0"/>
<rect x="738" y="521" width="3" height="24" fill="#c0c0c0"/>
<rect x="742" y="521" width="3" height="26" fill="#c0c0c0"/>
<rect x="746" y="521" width="3" height="30" fill="#c0c0c0"/>
<rect x="750" y="521" width="3" height="32" fill="#c0c0c0"/>
<rect x="754" y="521" width="3" height="35" fill="#c0c0c0"/>
<rect x="758" y="521" width="3" height="35" fill="#c0c0c0"/>
<rect x="762" y="521" width="3" height="34" fill="#c0c0c0"/>
<rect x="766" y="521" width="3" height="34" fill="#c0c0c0"/>
<rect x="770" y="521" width="3" height="32" fill="#c0c0c0"/>
<rect x="774" y="521" width="3" height="30" fill="#c0c0c0"/>
<rect x="778" y="521" width="3" height="28" fill="#c0c0c0"/>
<rect x="782" y="521" width="3" height="26" fill="#c0c0c0"/>
<rect x="786" y="521" width="3" height="24" fill="#c0c0c0"/>
<rect x="790" y="521" width="3" height="22" fill="#c0c0c0"/>
<rect x="794" y="521" width="3" height="21" fill="#c0c0c0"/>
<rect x="798" y="521" width="3" height="19" fill="#c0c0c0"/>
<rect x="802" y="521" width="3" height="18" fill="#c0c0c0"/>
<rect x="806" y="521" width="3" height="15" fill="#c0c0c0"/>
<rect x="810" y="521" width="3" height="13" fill="#c0c0c0"/>
<rect x="814" y="521" width="3" height="11" fill="#c0c0c0"/>
<rect x="818" y="521" width="3" height="6" fill="#c0c0c0"/>
<rect x="822" y="519" width="3" height="2" fill="#c0c0c0"/>
<rect x="826" y="515" width="3" height="6" fill="#c0c0c0"/>
<rect x="830" y="510" width="3" height="11" fill="#c0c0c0"/>
<rect x="834" y="506" width="3" height="15" fill="#c0c0c0"/>
<rect x="838" y="503" width="3" height="18" fill="#c0c0c0"/>
<rect x="842" y="502" width="3" height="19" fill="#c0c0c0"/>
<rect x="846" y="502" width="3" height="19" fill="#c0c0c0"/>
<rect x="850" y="502" width="3" height="19" fill="#c0c0c0"/>
<rect x="854" y="503" width="3" height="18" fill="#c0c0c0"/>
<rect x="858" y="504" width="3" height="17" fill="#c0c0c0"/>
<rect x="862" y="504" width="3" height="17" fill="#c0c0c0"/>
<rect x="866" y="504" width="3" height="17" fill="#c0c0c0"/>
<rect x="870" y="504" width="3" height="17" fill="#c0c0c0"/>
<rect x="874" y="504" width="3" height="17" fill="#c0c0c0"/>
<rect x="878" y="504" width="3" height="17" fill="#c0c0c0"/>
<rect x="882" y="504" width="3" height="17" fill="#c0c0c0"/>
<rect x="886" y="504" width="3" height="17" fill="#c0c0c0"/>
<rect x="890" y="504" width="3" height="17" fill="#c0c0c0"/>
<rect x="894" y="504" width="3" height="17" fill="#c0c0c0"/>
<rect x="898" y="504" width="3" height="17" fill="#c0c0c0"/>
<rect x="902" y="504" width="3" height="17" fill="#c0c0c0"/>
<rect x="906" y="506" width="3" height="15" fill="#c0c0c0"/>
<rect x="910" y="508" width="3" height="13" fill="#c0c0c0"/>
<rect x="914" y="511" width="3" height="10" fill="#c0c0c0"/>
<rect x="918" y="510" width="3" height="11" fill="#c0c0c0"/>
<rect x="922" y="511" width="3" height="10" fill="#c0c0c0"/>
<path d="M573 496h8v1h-8zM566 497h7v1h-7zM581 497h7v1h-7zM564 498h2v1h-2zM588 498h2v1h-2zM561 499h3v1h-3zM590 499h2v1h-2zM558 500h3v1h-3zM592 500h2v1h-2zM556 501h2v1h-2zM594 501h2v1h-2zM553 502h3v1h-3zM596 502h2v1h-2zM549 503h4v1h-4zM598 503h2v1h-2zM497 504h4v1h-4zM546 504h3v1h-3zM600 504h2v1h-2zM861 504h52v1h-52zM493 505h4v1h-4zM501 505h12v1h-12zM544 505h2v1h-2zM602 505h3v1h-3zM857 505h4v1h-4zM913 505h4v1h-4zM489 506h4v1h-4zM513 506h4v1h-4zM541 506h3v1h-3zM605 506h3v1h-3zM854 506h3v1h-3zM917 506h4v1h-4zM486 507h3v1h-3zM517 507h4v1h-4zM537 507h4v1h-4zM608 507h2v1h-2zM852 507h2v1h-2zM921 507h3v1h-3zM484 508h2v1h-2zM521 508h16v1h-16zM610 508h2v1h-2zM851 508h1v1h-1zM481 509h3v1h-3zM612 509h2v1h-2zM849 509h2v1h-2zM478 510h3v1h-3zM614 510h2v1h-2zM848 510h1v1h-1zM476 511h2v1h-2zM616 511h1v1h-1zM847 511h1v1h-1zM474 512h2v1h-2zM617 512h2v1h-2zM845 512h2v1h-2zM472 513h2v1h-2zM619 513h1v1h-1zM844 513h1v1h-1zM470 514h2v1h-2zM620 514h1v1h-1zM843 514h1v1h-1zM468 515h2v1h-2zM621 515h2v1h-2zM842 515h1v1h-1zM466 516h2v1h-2zM623 516h1v1h-1zM841 516h1v1h-1zM464 517h2v1h-2zM624 517h1v1h-1zM840 517h1v1h-1zM461 518h3v1h-3zM625 518h2v1h-2zM839 518h1v1h-1zM458 519h3v1h-3zM627 519h1v1h-1zM838 519h1v1h-1zM456 520h2v1h-2zM628 520h2v1h-2zM837 520h1v1h-1zM454 521h2v1h-2zM630 521h2v1h-2zM836 521h1v1h-1zM452 522h2v1h-2zM632 522h1v1h-1zM835 522h1v1h-1zM449 523h3v1h-3zM633 523h2v1h-2zM834 523h1v1h-1zM447 524h2v1h-2zM635 524h1v1h-1zM833 524h1v1h-1zM445 525h2v1h-2zM636 525h1v1h-1zM832 525h1v1h-1zM444 526h1v1h-1zM637 526h1v1h-1zM831 526h1v1h-1zM442 527h2v1h-2zM638 527h1v1h-1zM829 527h2v1h-2zM440 528h2v1h-2zM639 528h1v1h-1zM828 528h1v1h-1zM439 529h1v1h-1zM640 529h1v1h-1zM827 529h1v1h-1zM437 530h2v1h-2zM641 530h2v1h-2zM826 530h1v1h-1zM345 531h24v1h-24zM436 531h1v1h-1zM643 531h1v1h-1zM825 531h1v1h-1zM337 532h8v1h-8zM369 532h12v1h-12zM434 532h2v1h-2zM644 532h2v1h-2zM824 532h1v1h-1zM334 533h3v1h-3zM381 533h4v1h-4zM432 533h2v1h-2zM646 533h2v1h-2zM823 533h1v1h-1zM332 534h2v1h-2zM385 534h4v1h-4zM430 534h2v1h-2zM648 534h2v1h-2zM821 534h2v1h-2zM329 535h3v1h-3zM389 535h4v1h-4zM428 535h2v1h-2zM650 535h3v1h-3zM820 535h1v1h-1zM326 536h3v1h-3zM393 536h3v1h-3zM425 536h3v1h-3zM653 536h3v1h-3zM817 536h3v1h-3zM324 537h2v1h-2zM396 537h2v1h-2zM422 537h3v1h-3zM656 537h2v1h-2zM814 537h3v1h-3zM322 538h2v1h-2zM398 538h3v1h-3zM420 538h2v1h-2zM658 538h3v1h-3zM812 538h2v1h-2zM237 539h20v1h-20zM320 539h2v1h-2zM401 539h3v1h-3zM417 539h3v1h-3zM661 539h4v1h-4zM810 539h2v1h-2zM233 540h4v1h-4zM257 540h4v1h-4zM317 540h3v1h-3zM404 540h2v1h-2zM409 540h8v1h-8zM665 540h8v1h-8zM808 540h2v1h-2zM229 541h4v1h-4zM261 541h3v1h-3zM314 541h3v1h-3zM406 541h3v1h-3zM673 541h4v1h-4zM806 541h2v1h-2zM225 542h4v1h-4zM264 542h2v1h-2zM312 542h2v1h-2zM677 542h4v1h-4zM804 542h2v1h-2zM221 543h4v1h-4zM266 543h3v1h-3zM309 543h3v1h-3zM681 543h4v1h-4zM802 543h2v1h-2zM218 544h3v1h-3zM269 544h3v1h-3zM305 544h4v1h-4zM685 544h8v1h-8zM733 544h16v1h-16zM800 544h2v1h-2zM216 545h2v1h-2zM272 545h2v1h-2zM302 545h3v1h-3zM693 545h4v1h-4zM729 545h4v1h-4zM749 545h4v1h-4zM798 545h2v1h-2zM53 546h8v1h-8zM213 546h3v1h-3zM274 546h3v1h-3zM300 546h2v1h-2zM697 546h4v1h-4zM725 546h4v1h-4zM753 546h4v1h-4zM796 546h2v1h-2zM50 547h3v1h-3zM61 547h3v1h-3zM209 547h4v1h-4zM277 547h4v1h-4zM297 547h3v1h-3zM701 547h4v1h-4zM721 547h4v1h-4zM757 547h3v1h-3zM794 547h2v1h-2zM48 548h2v1h-2zM64 548h2v1h-2zM206 548h3v1h-3zM281 548h4v1h-4zM293 548h4v1h-4zM705 548h16v1h-16zM760 548h2v1h-2zM792 548h2v1h-2zM46 549h2v1h-2zM66 549h2v1h-2zM204 549h2v1h-2zM285 549h8v1h-8zM762 549h3v1h-3zM789 549h3v1h-3zM44 550h2v1h-2zM68 550h2v1h-2zM201 550h3v1h-3zM765 550h4v1h-4zM785 550h4v1h-4zM43 551h1v1h-1zM70 551h3v1h-3zM197 551h4v1h-4zM769 551h4v1h-4zM781 551h4v1h-4zM41 552h2v1h-2zM73 552h3v1h-3zM193 552h4v1h-4zM773 552h8v1h-8zM40 553h1v1h-1zM76 553h1v1h-1zM189 553h4v1h-4zM39 554h1v1h-1zM77 554h2v1h-2zM153 554h36v1h-36zM37 555h2v1h-2zM79 555h1v1h-1zM149 555h4v1h-4zM36 556h1v1h-1zM80 556h2v1h-2zM145 556h4v1h-4zM33 557h3v1h-3zM82 557h2v1h-2zM142 557h3v1h-3zM30 558h3v1h-3zM84 558h2v1h-2zM140 558h2v1h-2zM28 559h2v1h-2zM86 559h2v1h-2zM138 559h2v1h-2zM25 560h3v1h-3zM88 560h2v1h-2zM136 560h2v1h-2zM3 561h2v1h-2zM22 561h3v1h-3zM90 561h3v1h-3zM134 561h2v1h-2zM5 562h8v1h-8zM20 562h2v1h-2zM93 562h8v1h-8zM132 562h2v1h-2zM13 563h7v1h-7zM101 563h4v1h-4zM129 563h3v1h-3zM105 564h8v1h-8zM125 564h4v1h-4zM113 565h12v1h-12z" fill="#ff0000"/>
</g>
<text x="7.6" y="501.3" font-size="10.5" fill="#000" textLength="147" lengthAdjust="spacingAndGlyphs">MACD(12,26,9) 0.008359 0.011856</text>
<g clip-path="url(#cRsi)" shape-rendering="crispEdges">
<line x1="4" y1="601.5" x2="1165" y2="601.5" stroke="#c0c0c0" stroke-width="1" stroke-dasharray="3,3"/>
<line x1="4" y1="635.5" x2="1165" y2="635.5" stroke="#c0c0c0" stroke-width="1" stroke-dasharray="3,3"/>
<path d="M835 601h1v1h-1zM471 602h1v1h-1zM543 602h5v1h-5zM833 602h2v1h-2zM836 602h1v1h-1zM470 603h1v1h-1zM472 603h1v1h-1zM542 603h1v1h-1zM548 603h1v1h-1zM832 603h1v1h-1zM837 603h1v1h-1zM470 604h1v1h-1zM472 604h1v1h-1zM541 604h1v1h-1zM549 604h2v1h-2zM553 604h4v1h-4zM831 604h1v1h-1zM838 604h1v1h-1zM469 605h1v1h-1zM473 605h1v1h-1zM531 605h1v1h-1zM541 605h1v1h-1zM551 605h2v1h-2zM557 605h7v1h-7zM829 605h2v1h-2zM839 605h2v1h-2zM468 606h1v1h-1zM473 606h1v1h-1zM530 606h1v1h-1zM532 606h2v1h-2zM540 606h1v1h-1zM564 606h1v1h-1zM828 606h1v1h-1zM841 606h3v1h-3zM870 606h2v1h-2zM891 606h1v1h-1zM463 607h2v1h-2zM468 607h1v1h-1zM474 607h1v1h-1zM529 607h1v1h-1zM534 607h6v1h-6zM565 607h1v1h-1zM819 607h9v1h-9zM844 607h1v1h-1zM868 607h2v1h-2zM872 607h2v1h-2zM890 607h1v1h-1zM892 607h1v1h-1zM463 608h1v1h-1zM465 608h3v1h-3zM474 608h1v1h-1zM528 608h1v1h-1zM565 608h1v1h-1zM819 608h1v1h-1zM845 608h1v1h-1zM866 608h2v1h-2zM874 608h2v1h-2zM883 608h1v1h-1zM889 608h1v1h-1zM893 608h2v1h-2zM462 609h1v1h-1zM475 609h1v1h-1zM527 609h1v1h-1zM566 609h1v1h-1zM818 609h1v1h-1zM846 609h1v1h-1zM864 609h2v1h-2zM876 609h1v1h-1zM882 609h1v1h-1zM884 609h2v1h-2zM888 609h1v1h-1zM895 609h2v1h-2zM462 610h1v1h-1zM475 610h1v1h-1zM525 610h2v1h-2zM567 610h1v1h-1zM818 610h1v1h-1zM847 610h2v1h-2zM858 610h6v1h-6zM877 610h1v1h-1zM881 610h1v1h-1zM886 610h2v1h-2zM897 610h3v1h-3zM461 611h1v1h-1zM476 611h2v1h-2zM524 611h1v1h-1zM568 611h1v1h-1zM581 611h4v1h-4zM818 611h1v1h-1zM849 611h4v1h-4zM856 611h2v1h-2zM878 611h1v1h-1zM880 611h1v1h-1zM900 611h2v1h-2zM442 612h2v1h-2zM461 612h1v1h-1zM478 612h2v1h-2zM510 612h2v1h-2zM523 612h1v1h-1zM568 612h1v1h-1zM579 612h2v1h-2zM585 612h3v1h-3zM818 612h1v1h-1zM853 612h3v1h-3zM879 612h1v1h-1zM902 612h2v1h-2zM919 612h2v1h-2zM440 613h2v1h-2zM444 613h1v1h-1zM460 613h1v1h-1zM480 613h1v1h-1zM508 613h2v1h-2zM512 613h2v1h-2zM521 613h2v1h-2zM569 613h1v1h-1zM577 613h2v1h-2zM588 613h2v1h-2zM817 613h1v1h-1zM904 613h1v1h-1zM918 613h1v1h-1zM921 613h3v1h-3zM423 614h1v1h-1zM438 614h2v1h-2zM445 614h1v1h-1zM460 614h1v1h-1zM481 614h1v1h-1zM493 614h15v1h-15zM514 614h3v1h-3zM520 614h1v1h-1zM570 614h1v1h-1zM576 614h1v1h-1zM590 614h2v1h-2zM817 614h1v1h-1zM905 614h1v1h-1zM918 614h1v1h-1zM411 615h1v1h-1zM421 615h2v1h-2zM424 615h2v1h-2zM436 615h2v1h-2zM446 615h1v1h-1zM449 615h4v1h-4zM457 615h3v1h-3zM481 615h1v1h-1zM486 615h7v1h-7zM517 615h3v1h-3zM570 615h1v1h-1zM573 615h3v1h-3zM592 615h1v1h-1zM817 615h1v1h-1zM906 615h1v1h-1zM917 615h1v1h-1zM410 616h1v1h-1zM412 616h2v1h-2zM420 616h1v1h-1zM426 616h2v1h-2zM434 616h2v1h-2zM447 616h2v1h-2zM453 616h4v1h-4zM482 616h1v1h-1zM484 616h2v1h-2zM571 616h2v1h-2zM593 616h2v1h-2zM817 616h1v1h-1zM907 616h1v1h-1zM916 616h1v1h-1zM321 617h4v1h-4zM409 617h1v1h-1zM414 617h6v1h-6zM428 617h2v1h-2zM432 617h2v1h-2zM483 617h1v1h-1zM595 617h1v1h-1zM810 617h2v1h-2zM816 617h1v1h-1zM908 617h2v1h-2zM916 617h1v1h-1zM27 618h5v1h-5zM303 618h1v1h-1zM319 618h2v1h-2zM325 618h3v1h-3zM335 618h1v1h-1zM409 618h1v1h-1zM430 618h2v1h-2zM596 618h1v1h-1zM808 618h2v1h-2zM812 618h1v1h-1zM816 618h1v1h-1zM910 618h6v1h-6zM25 619h2v1h-2zM32 619h1v1h-1zM301 619h2v1h-2zM304 619h1v1h-1zM318 619h1v1h-1zM328 619h1v1h-1zM334 619h1v1h-1zM336 619h1v1h-1zM408 619h1v1h-1zM596 619h1v1h-1zM807 619h1v1h-1zM813 619h1v1h-1zM816 619h1v1h-1zM24 620h1v1h-1zM33 620h1v1h-1zM300 620h1v1h-1zM305 620h1v1h-1zM318 620h1v1h-1zM329 620h1v1h-1zM333 620h1v1h-1zM337 620h2v1h-2zM351 620h1v1h-1zM363 620h1v1h-1zM407 620h1v1h-1zM597 620h1v1h-1zM806 620h1v1h-1zM813 620h1v1h-1zM816 620h1v1h-1zM21 621h3v1h-3zM34 621h1v1h-1zM215 621h1v1h-1zM231 621h1v1h-1zM297 621h3v1h-3zM306 621h1v1h-1zM317 621h1v1h-1zM329 621h1v1h-1zM333 621h1v1h-1zM339 621h1v1h-1zM350 621h1v1h-1zM352 621h1v1h-1zM361 621h2v1h-2zM364 621h1v1h-1zM406 621h1v1h-1zM598 621h1v1h-1zM805 621h1v1h-1zM814 621h2v1h-2zM19 622h2v1h-2zM35 622h2v1h-2zM213 622h2v1h-2zM216 622h2v1h-2zM230 622h1v1h-1zM232 622h1v1h-1zM295 622h2v1h-2zM307 622h1v1h-1zM316 622h1v1h-1zM330 622h1v1h-1zM332 622h1v1h-1zM340 622h1v1h-1zM350 622h1v1h-1zM353 622h2v1h-2zM360 622h1v1h-1zM365 622h2v1h-2zM406 622h1v1h-1zM598 622h1v1h-1zM799 622h2v1h-2zM804 622h1v1h-1zM815 622h1v1h-1zM18 623h1v1h-1zM37 623h7v1h-7zM212 623h1v1h-1zM218 623h2v1h-2zM230 623h1v1h-1zM233 623h2v1h-2zM293 623h2v1h-2zM308 623h1v1h-1zM316 623h1v1h-1zM331 623h1v1h-1zM340 623h1v1h-1zM349 623h1v1h-1zM355 623h5v1h-5zM367 623h5v1h-5zM405 623h1v1h-1zM599 623h6v1h-6zM609 623h3v1h-3zM787 623h1v1h-1zM798 623h1v1h-1zM801 623h3v1h-3zM18 624h1v1h-1zM44 624h2v1h-2zM118 624h3v1h-3zM138 624h2v1h-2zM211 624h1v1h-1zM220 624h1v1h-1zM229 624h1v1h-1zM235 624h1v1h-1zM292 624h1v1h-1zM309 624h1v1h-1zM314 624h2v1h-2zM341 624h1v1h-1zM348 624h1v1h-1zM372 624h1v1h-1zM405 624h1v1h-1zM605 624h4v1h-4zM612 624h1v1h-1zM695 624h2v1h-2zM785 624h2v1h-2zM788 624h1v1h-1zM797 624h1v1h-1zM17 625h1v1h-1zM46 625h2v1h-2zM116 625h2v1h-2zM121 625h3v1h-3zM136 625h2v1h-2zM140 625h1v1h-1zM210 625h1v1h-1zM221 625h1v1h-1zM229 625h1v1h-1zM236 625h1v1h-1zM279 625h1v1h-1zM291 625h1v1h-1zM310 625h1v1h-1zM312 625h2v1h-2zM342 625h1v1h-1zM348 625h1v1h-1zM373 625h2v1h-2zM404 625h1v1h-1zM613 625h1v1h-1zM695 625h1v1h-1zM697 625h3v1h-3zM727 625h5v1h-5zM771 625h2v1h-2zM784 625h1v1h-1zM789 625h2v1h-2zM796 625h1v1h-1zM17 626h1v1h-1zM48 626h1v1h-1zM115 626h1v1h-1zM124 626h2v1h-2zM133 626h3v1h-3zM141 626h1v1h-1zM175 626h10v1h-10zM209 626h1v1h-1zM221 626h1v1h-1zM228 626h1v1h-1zM237 626h1v1h-1zM277 626h2v1h-2zM280 626h2v1h-2zM289 626h2v1h-2zM311 626h1v1h-1zM342 626h1v1h-1zM345 626h3v1h-3zM375 626h1v1h-1zM404 626h1v1h-1zM614 626h1v1h-1zM667 626h5v1h-5zM694 626h1v1h-1zM700 626h2v1h-2zM709 626h3v1h-3zM725 626h2v1h-2zM732 626h1v1h-1zM770 626h1v1h-1zM773 626h11v1h-11zM791 626h5v1h-5zM16 627h1v1h-1zM48 627h1v1h-1zM114 627h1v1h-1zM126 627h7v1h-7zM142 627h1v1h-1zM174 627h1v1h-1zM185 627h3v1h-3zM208 627h1v1h-1zM222 627h1v1h-1zM228 627h1v1h-1zM238 627h1v1h-1zM276 627h1v1h-1zM282 627h3v1h-3zM288 627h1v1h-1zM343 627h2v1h-2zM376 627h1v1h-1zM403 627h1v1h-1zM615 627h1v1h-1zM666 627h1v1h-1zM672 627h1v1h-1zM694 627h1v1h-1zM702 627h7v1h-7zM712 627h1v1h-1zM724 627h1v1h-1zM733 627h1v1h-1zM770 627h1v1h-1zM16 628h1v1h-1zM49 628h1v1h-1zM75 628h2v1h-2zM114 628h1v1h-1zM143 628h1v1h-1zM173 628h1v1h-1zM188 628h2v1h-2zM206 628h2v1h-2zM223 628h5v1h-5zM239 628h1v1h-1zM275 628h1v1h-1zM285 628h3v1h-3zM377 628h2v1h-2zM381 628h4v1h-4zM389 628h7v1h-7zM402 628h1v1h-1zM616 628h1v1h-1zM666 628h1v1h-1zM672 628h1v1h-1zM693 628h1v1h-1zM713 628h1v1h-1zM721 628h3v1h-3zM733 628h1v1h-1zM769 628h1v1h-1zM13 629h3v1h-3zM50 629h1v1h-1zM73 629h2v1h-2zM77 629h11v1h-11zM113 629h1v1h-1zM144 629h2v1h-2zM173 629h1v1h-1zM190 629h2v1h-2zM204 629h2v1h-2zM240 629h2v1h-2zM245 629h7v1h-7zM267 629h1v1h-1zM273 629h2v1h-2zM379 629h2v1h-2zM385 629h4v1h-4zM396 629h1v1h-1zM401 629h1v1h-1zM617 629h2v1h-2zM665 629h1v1h-1zM673 629h1v1h-1zM693 629h1v1h-1zM714 629h1v1h-1zM717 629h4v1h-4zM734 629h1v1h-1zM769 629h1v1h-1zM7 630h6v1h-6zM50 630h1v1h-1zM67 630h2v1h-2zM72 630h1v1h-1zM88 630h1v1h-1zM103 630h1v1h-1zM112 630h1v1h-1zM146 630h2v1h-2zM172 630h1v1h-1zM192 630h2v1h-2zM197 630h7v1h-7zM242 630h3v1h-3zM252 630h1v1h-1zM266 630h1v1h-1zM268 630h2v1h-2zM272 630h1v1h-1zM397 630h2v1h-2zM400 630h1v1h-1zM619 630h1v1h-1zM665 630h1v1h-1zM673 630h1v1h-1zM693 630h1v1h-1zM715 630h2v1h-2zM735 630h1v1h-1zM768 630h1v1h-1zM6 631h1v1h-1zM51 631h1v1h-1zM66 631h1v1h-1zM69 631h3v1h-3zM89 631h2v1h-2zM102 631h1v1h-1zM104 631h2v1h-2zM112 631h1v1h-1zM148 631h2v1h-2zM170 631h2v1h-2zM194 631h3v1h-3zM252 631h1v1h-1zM265 631h1v1h-1zM270 631h2v1h-2zM399 631h1v1h-1zM620 631h2v1h-2zM664 631h1v1h-1zM674 631h1v1h-1zM692 631h1v1h-1zM736 631h2v1h-2zM768 631h1v1h-1zM6 632h1v1h-1zM52 632h1v1h-1zM66 632h1v1h-1zM91 632h1v1h-1zM101 632h1v1h-1zM106 632h6v1h-6zM150 632h2v1h-2zM168 632h2v1h-2zM253 632h1v1h-1zM265 632h1v1h-1zM622 632h14v1h-14zM664 632h1v1h-1zM674 632h1v1h-1zM692 632h1v1h-1zM738 632h2v1h-2zM763 632h5v1h-5zM5 633h1v1h-1zM53 633h2v1h-2zM65 633h1v1h-1zM92 633h2v1h-2zM101 633h1v1h-1zM152 633h2v1h-2zM162 633h6v1h-6zM253 633h1v1h-1zM264 633h1v1h-1zM636 633h1v1h-1zM661 633h3v1h-3zM675 633h1v1h-1zM691 633h1v1h-1zM740 633h1v1h-1zM762 633h1v1h-1zM4 634h1v1h-1zM55 634h1v1h-1zM65 634h1v1h-1zM94 634h3v1h-3zM100 634h1v1h-1zM154 634h3v1h-3zM160 634h2v1h-2zM254 634h1v1h-1zM263 634h1v1h-1zM637 634h1v1h-1zM657 634h4v1h-4zM676 634h1v1h-1zM691 634h1v1h-1zM741 634h1v1h-1zM761 634h1v1h-1zM4 635h1v1h-1zM56 635h1v1h-1zM64 635h1v1h-1zM97 635h3v1h-3zM157 635h3v1h-3zM254 635h1v1h-1zM262 635h1v1h-1zM638 635h1v1h-1zM641 635h4v1h-4zM655 635h2v1h-2zM676 635h1v1h-1zM691 635h1v1h-1zM742 635h1v1h-1zM761 635h1v1h-1zM3 636h1v1h-1zM57 636h2v1h-2zM64 636h1v1h-1zM255 636h1v1h-1zM261 636h1v1h-1zM639 636h2v1h-2zM645 636h3v1h-3zM653 636h2v1h-2zM677 636h1v1h-1zM690 636h1v1h-1zM743 636h1v1h-1zM760 636h1v1h-1zM59 637h5v1h-5zM255 637h1v1h-1zM261 637h1v1h-1zM648 637h2v1h-2zM652 637h1v1h-1zM677 637h1v1h-1zM690 637h1v1h-1zM744 637h2v1h-2zM759 637h1v1h-1zM256 638h2v1h-2zM260 638h1v1h-1zM650 638h2v1h-2zM678 638h1v1h-1zM689 638h1v1h-1zM746 638h3v1h-3zM757 638h2v1h-2zM258 639h2v1h-2zM678 639h1v1h-1zM689 639h1v1h-1zM749 639h4v1h-4zM756 639h1v1h-1zM679 640h1v1h-1zM688 640h1v1h-1zM753 640h3v1h-3zM679 641h2v1h-2zM688 641h1v1h-1zM681 642h7v1h-7z" fill="#1e90ff"/>
</g>
<text x="7.3" y="587.1" font-size="10.3" fill="#000" textLength="67.5" lengthAdjust="spacingAndGlyphs">RSI(14) 54.2930</text>
<rect x="2.5" y="26.5" width="1163" height="460" fill="none" stroke="#000" stroke-width="1" shape-rendering="crispEdges"/>
<rect x="2.5" y="488.5" width="1163" height="84" fill="none" stroke="#000" stroke-width="1" shape-rendering="crispEdges"/>
<rect x="2.5" y="574.5" width="1163" height="87" fill="none" stroke="#000" stroke-width="1" shape-rendering="crispEdges"/>
<rect x="1166" y="54" width="2" height="1" fill="#000"/>
<text x="1171.1" y="58" font-size="10.1" fill="#000" textLength="33" lengthAdjust="spacingAndGlyphs">6.76840</text>
<rect x="1166" y="87" width="2" height="1" fill="#000"/>
<text x="1171.1" y="91" font-size="10.1" fill="#000" textLength="33" lengthAdjust="spacingAndGlyphs">6.73515</text>
<rect x="1166" y="120" width="2" height="1" fill="#000"/>
<text x="1171.1" y="124" font-size="10.1" fill="#000" textLength="33" lengthAdjust="spacingAndGlyphs">6.70285</text>
<rect x="1166" y="153" width="2" height="1" fill="#000"/>
<text x="1171.1" y="157" font-size="10.1" fill="#000" textLength="33" lengthAdjust="spacingAndGlyphs">6.67055</text>
<rect x="1166" y="186" width="2" height="1" fill="#000"/>
<text x="1171.1" y="190" font-size="10.1" fill="#000" textLength="33" lengthAdjust="spacingAndGlyphs">6.63730</text>
<rect x="1166" y="219" width="2" height="1" fill="#000"/>
<text x="1171.1" y="223" font-size="10.1" fill="#000" textLength="33" lengthAdjust="spacingAndGlyphs">6.60500</text>
<rect x="1166" y="252" width="2" height="1" fill="#000"/>
<text x="1171.1" y="256" font-size="10.1" fill="#000" textLength="33" lengthAdjust="spacingAndGlyphs">6.57270</text>
<rect x="1166" y="285" width="2" height="1" fill="#000"/>
<text x="1171.1" y="289" font-size="10.1" fill="#000" textLength="33" lengthAdjust="spacingAndGlyphs">6.53945</text>
<rect x="1166" y="318" width="2" height="1" fill="#000"/>
<text x="1171.1" y="322" font-size="10.1" fill="#000" textLength="33" lengthAdjust="spacingAndGlyphs">6.50715</text>
<rect x="1166" y="351" width="2" height="1" fill="#000"/>
<text x="1171.1" y="355" font-size="10.1" fill="#000" textLength="33" lengthAdjust="spacingAndGlyphs">6.47485</text>
<rect x="1166" y="384" width="2" height="1" fill="#000"/>
<text x="1171.1" y="388" font-size="10.1" fill="#000" textLength="33" lengthAdjust="spacingAndGlyphs">6.44160</text>
<rect x="1166" y="417" width="2" height="1" fill="#000"/>
<text x="1171.1" y="421" font-size="10.1" fill="#000" textLength="33" lengthAdjust="spacingAndGlyphs">6.40835</text>
<rect x="1166" y="450" width="2" height="1" fill="#000"/>
<text x="1171.1" y="454" font-size="10.1" fill="#000" textLength="33" lengthAdjust="spacingAndGlyphs">6.37605</text>
<rect x="1166" y="483" width="2" height="1" fill="#000"/>
<text x="1171.1" y="487" font-size="10.1" fill="#000" textLength="33" lengthAdjust="spacingAndGlyphs">6.34375</text>
<rect x="1167" y="245" width="41" height="11" fill="#ff0000"/>
<text x="1171" y="254" font-size="9.6" fill="#fff" textLength="33.4" lengthAdjust="spacingAndGlyphs">6.57314</text>
<rect x="1167" y="304" width="41" height="11" fill="#ff0000"/>
<text x="1171" y="313" font-size="9.6" fill="#fff" textLength="33.4" lengthAdjust="spacingAndGlyphs">6.51483</text>
<rect x="1167" y="347" width="41" height="11" fill="#000000"/>
<text x="1171" y="356" font-size="9.6" fill="#fff" textLength="33.4" lengthAdjust="spacingAndGlyphs">6.47321</text>
<rect x="1167" y="369" width="41" height="11" fill="#00ff00"/>
<text x="1171" y="378" font-size="9.6" fill="#fff" textLength="33.4" lengthAdjust="spacingAndGlyphs">6.45059</text>
<rect x="1167" y="420" width="41" height="11" fill="#0000ff"/>
<text x="1171" y="429" font-size="9.6" fill="#fff" textLength="33.4" lengthAdjust="spacingAndGlyphs">6.40019</text>
<rect x="1167" y="470" width="41" height="11" fill="#0000ff"/>
<text x="1171" y="479" font-size="9.6" fill="#fff" textLength="33.4" lengthAdjust="spacingAndGlyphs">6.35078</text>
<rect x="1166" y="489" width="2" height="1" fill="#000"/>
<text x="1169.2" y="498.7" font-size="10.3" fill="#000" textLength="37" lengthAdjust="spacingAndGlyphs">0.025609</text>
<rect x="1166" y="521" width="2" height="1" fill="#000"/>
<text x="1169.5" y="525" font-size="10.3" fill="#000" textLength="19" lengthAdjust="spacingAndGlyphs">0.00</text>
<text x="1169" y="569" font-size="10.3" fill="#000" textLength="42" lengthAdjust="spacingAndGlyphs">-0.040386</text>
<text x="1168.6" y="584.6" font-size="10.3" fill="#000" textLength="14.5" lengthAdjust="spacingAndGlyphs">100</text>
<text x="1168.6" y="604.6" font-size="10.3" fill="#000" textLength="9.6" lengthAdjust="spacingAndGlyphs">70</text>
<text x="1168.6" y="638.6" font-size="10.3" fill="#000" textLength="9.6" lengthAdjust="spacingAndGlyphs">30</text>
<text x="1168.6" y="658.2" font-size="10.3" fill="#000" textLength="5" lengthAdjust="spacingAndGlyphs">0</text>
<rect x="1166" y="575" width="2" height="1" fill="#000"/>
<rect x="1166" y="661" width="2" height="1" fill="#000"/>
<rect x="1166" y="571" width="2" height="1" fill="#000"/>
<rect x="3" y="662" width="1" height="3" fill="#000"/>
<text transform="translate(2.2,673.6) scale(0.975,1)" x="0" y="0" font-size="9.5" fill="#000">21 Oct 2020</text>
<rect x="67" y="662" width="1" height="3" fill="#000"/>
<text transform="translate(66.2,673.6) scale(0.975,1)" x="0" y="0" font-size="9.5" fill="#000">9 Nov 2020</text>
<rect x="131" y="662" width="1" height="3" fill="#000"/>
<text transform="translate(130.2,673.6) scale(0.975,1)" x="0" y="0" font-size="9.5" fill="#000">27 Nov 2020</text>
<rect x="195" y="662" width="1" height="3" fill="#000"/>
<text transform="translate(194.2,673.6) scale(0.975,1)" x="0" y="0" font-size="9.5" fill="#000">16 Dec 2020</text>
<rect x="259" y="662" width="1" height="3" fill="#000"/>
<text transform="translate(258.2,673.6) scale(0.975,1)" x="0" y="0" font-size="9.5" fill="#000">5 Jan 2021</text>
<rect x="323" y="662" width="1" height="3" fill="#000"/>
<text transform="translate(322.2,673.6) scale(0.975,1)" x="0" y="0" font-size="9.5" fill="#000">23 Jan 2021</text>
<rect x="387" y="662" width="1" height="3" fill="#000"/>
<text transform="translate(386.2,673.6) scale(0.975,1)" x="0" y="0" font-size="9.5" fill="#000">11 Feb 2021</text>
<rect x="451" y="662" width="1" height="3" fill="#000"/>
<text transform="translate(450.2,673.6) scale(0.975,1)" x="0" y="0" font-size="9.5" fill="#000">2 Mar 2021</text>
<rect x="515" y="662" width="1" height="3" fill="#000"/>
<text transform="translate(514.2,673.6) scale(0.975,1)" x="0" y="0" font-size="9.5" fill="#000">20 Mar 2021</text>
<rect x="579" y="662" width="1" height="3" fill="#000"/>
<text transform="translate(578.2,673.6) scale(0.975,1)" x="0" y="0" font-size="9.5" fill="#000">8 Apr 2021</text>
<rect x="643" y="662" width="1" height="3" fill="#000"/>
<text transform="translate(642.2,673.6) scale(0.975,1)" x="0" y="0" font-size="9.5" fill="#000">27 Apr 2021</text>
<rect x="707" y="662" width="1" height="3" fill="#000"/>
<text transform="translate(706.2,673.6) scale(0.975,1)" x="0" y="0" font-size="9.5" fill="#000">15 May 2021</text>
<rect x="771" y="662" width="1" height="3" fill="#000"/>
<text transform="translate(770.2,673.6) scale(0.975,1)" x="0" y="0" font-size="9.5" fill="#000">3 Jun 2021</text>
<rect x="835" y="662" width="1" height="3" fill="#000"/>
<text transform="translate(834.2,673.6) scale(0.975,1)" x="0" y="0" font-size="9.5" fill="#000">22 Jun 2021</text>
<rect x="899" y="662" width="1" height="3" fill="#000"/>
<text transform="translate(898.2,673.6) scale(0.975,1)" x="0" y="0" font-size="9.5" fill="#000">10 Jul 2021</text>
<rect x="0" y="682" width="1209" height="1" fill="#e3e3e3"/>
<rect x="0" y="684" width="1209" height="20" fill="#efefef"/>
<rect x="0" y="685" width="1209" height="1" fill="#fafafa"/>
<rect x="0" y="704" width="1209" height="1" fill="#ffffff"/>
<rect x="0" y="705" width="1209" height="3" fill="#f0f0f0"/>
<rect x="0" y="684" width="1209" height="1" fill="#000"/>
<rect x="380" y="684" width="104" height="19" fill="#fff"/>
<rect x="380" y="684" width="1" height="19" fill="#000"/><rect x="483" y="684" width="1" height="19" fill="#000"/><rect x="380" y="702" width="104" height="1" fill="#000"/>
<text x="16.1" y="698.8" font-size="12" fill="#555" textLength="67.8" lengthAdjust="spacingAndGlyphs">EURUSD,H4</text>
<text x="107.2" y="698.8" font-size="12" fill="#555" textLength="81.8" lengthAdjust="spacingAndGlyphs">AUDUSD,Daily</text>
<text x="210.4" y="698.8" font-size="12" fill="#555" textLength="66.3" lengthAdjust="spacingAndGlyphs">USDCHF,H4</text>
<text x="298.5" y="698.8" font-size="12" fill="#555" textLength="69" lengthAdjust="spacingAndGlyphs">USDCAD,H4</text>
<text x="390" y="698.8" font-size="12" fill="#000" textLength="82.5" lengthAdjust="spacingAndGlyphs">USDCNH,Daily</text>
<text x="495" y="698.8" font-size="12" fill="#555" textLength="52.5" lengthAdjust="spacingAndGlyphs">UKOil,H4</text>
<text x="570.4" y="698.8" font-size="12" fill="#555" textLength="46.4" lengthAdjust="spacingAndGlyphs">DJ30,H1</text>
<text x="640.4" y="698.8" font-size="12" fill="#555" textLength="51.5" lengthAdjust="spacingAndGlyphs">USDX,H1</text>
<text x="715.1" y="698.8" font-size="12" fill="#555" textLength="81" lengthAdjust="spacingAndGlyphs">XAUUSD,Daily</text>
<text x="820" y="698.8" font-size="12" fill="#555" textLength="80.8" lengthAdjust="spacingAndGlyphs">GBPUSD,Daily</text>
<rect x="96" y="687" width="1" height="14" fill="#7a7a7a"/>
<rect x="200" y="687" width="1" height="14" fill="#7a7a7a"/>
<rect x="288" y="687" width="1" height="14" fill="#7a7a7a"/>
<rect x="560" y="687" width="1" height="14" fill="#7a7a7a"/>
<rect x="628" y="687" width="1" height="14" fill="#7a7a7a"/>
<rect x="704" y="687" width="1" height="14" fill="#7a7a7a"/>
<rect x="808" y="687" width="1" height="14" fill="#7a7a7a"/>
<rect x="913" y="687" width="1" height="14" fill="#7a7a7a"/>
<path d="M1180.5,693 L1184.5,690 L1184.5,696 Z" fill="#999"/>
<path d="M1203.5,693 L1199.5,690 L1199.5,696 Z" fill="#999"/>
</svg></body></html>
